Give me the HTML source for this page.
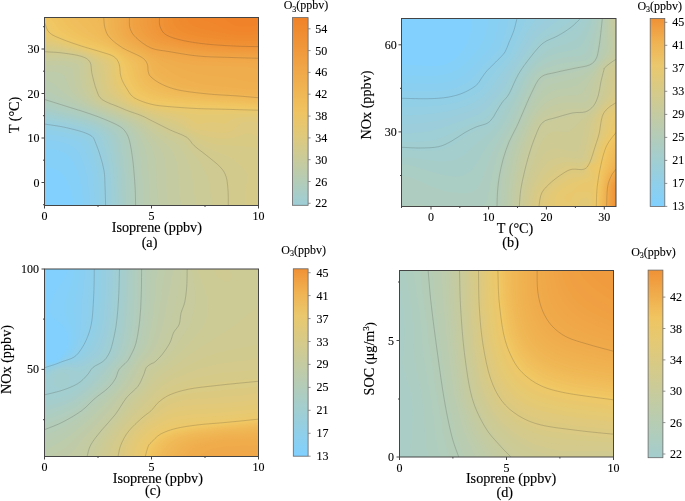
<!DOCTYPE html>
<html><head><meta charset="utf-8"><title>O3 contour plots</title>
<style>
html,body{margin:0;padding:0;background:#fff}
svg{display:block}
text{font-family:"Liberation Serif",serif;fill:#000}
.t{font-size:12px;stroke:#000;stroke-width:0.1px}
.l{font-size:14.2px;stroke:#000;stroke-width:0.15px}
</style></head><body>
<svg width="685" height="501" viewBox="0 0 685 501">
<rect width="685" height="501" fill="#fff"/>
<g><rect x="44.5" y="17.5" width="214" height="188" fill="#82d0fd"/>
<path d="M44.5,17.5 258.5,17.5 258.5,205.5 73.3,205.5 73.1,201.5 72.5,197.5 70.5,189.7 68.1,183.5 66.5,180.2 64.5,177 62.5,174.6 60.5,172.6 58.5,171.1 56.5,169.9 52.5,168.4 44.5,166.7 44.5,19.5Z" fill="#85d0f8"/>
<path d="M44.5,17.5 258.5,17.5 258.5,205.5 82.6,205.5 82.6,199.5 82,193.5 80.7,185.5 79.4,179.5 78.3,175.5 76.3,169.5 74.5,165.2 72.5,161.5 71.2,159.5 68.5,156.3 66.5,154.6 64.5,153.2 61,151.5 56.5,150.1 53.6,149.5 48.5,148.9 44.5,148.7 44.5,19.5Z" fill="#89cff3"/>
<path d="M44.5,17.5 258.5,17.5 258.5,205.5 89.1,205.5 89.2,199.5 88.7,191.5 87.9,183.5 86.6,175.5 84.6,167.5 82.5,161.5 80.5,156.7 78.5,153 76.5,150.3 73.6,147.5 70.4,145.5 66.5,143.8 62.5,142.5 56.5,141.2 50.5,140.5 44.5,140.1 44.5,19.5Z" fill="#8ccfee"/>
<path d="M44.5,17.5 258.5,17.5 258.5,205.5 94.6,205.5 94.6,197.5 94.1,187.5 93.2,177.5 92.2,171.5 90.1,163.5 87.3,155.5 84.7,149.5 82.5,145.9 80.2,143.5 77.3,141.5 72.8,139.5 68.5,138.1 62.5,136.5 57.3,135.5 50.5,134.6 44.5,134.2 44.5,19.5Z" fill="#90cfe9"/>
<path d="M44.5,17.5 258.5,17.5 258.5,205.5 99.4,205.5 99.5,199.5 99,187.5 98.3,177.5 97.6,171.5 96.7,167.5 95,161.5 92.5,153.7 89.3,145.5 88.3,143.5 86.9,141.5 84.9,139.5 82.5,138.1 80.5,137.1 75.9,135.5 68.5,133.4 60.5,131.6 50.5,130.1 44.5,129.4 44.5,19.5Z" fill="#93cfe4"/>
<path d="M44.5,17.5 258.5,17.5 258.5,205.5 103.9,205.5 103.4,187.5 102.4,171.5 101.5,167.5 98.2,155.5 93.9,143.5 92,139.5 90.5,137.5 87.5,135.5 82.8,133.5 80.5,132.8 62.5,128.3 44.5,125.5 44.5,19.5Z" fill="#97cee0"/>
<path d="M44.5,17.5 258.5,17.5 258.5,205.5 107.9,205.5 107.3,185.5 106.7,173.5 106.2,169.5 103.4,157.5 102.2,153.5 98.8,143.5 97.1,139.5 95.9,137.5 94.2,135.5 91.4,133.5 87.2,131.5 82.5,130 64.4,125.5 44.5,122.2 44.5,19.5Z" fill="#9acedb"/>
<path d="M44.5,17.5 258.5,17.5 258.5,205.5 111.7,205.5 111,183.5 110.5,174.9 109.9,169.5 107.5,157.5 105.5,149.5 104.3,145.5 102.8,141.5 100.5,137.4 99,135.5 96.9,133.5 94.5,131.7 90.5,129.7 86.5,128.2 80.5,126.5 64.5,122.8 44.5,119.2 44.5,19.5Z" fill="#9eced6"/>
<path d="M44.5,17.5 258.5,17.5 258.5,205.5 115.3,205.5 114.4,179.5 113.8,171.5 112.9,165.5 110.7,153.5 108.7,145.5 107.3,141.5 106.3,139.5 105.1,137.5 103.6,135.5 101.7,133.5 99.3,131.5 96.3,129.5 92.2,127.5 86.6,125.5 79.2,123.5 66.5,120.6 44.5,116.4 44.5,19.5Z" fill="#a1ced1"/>
<path d="M44.5,17.5 258.5,17.5 258.5,205.5 118.9,205.5 117.9,179.5 117.3,171.5 116.2,163.5 114.2,151.5 112.5,144 110.8,139.5 109.7,137.5 108.3,135.5 106.4,133.5 104.5,131.8 101.4,129.5 96.5,126.7 90.5,124.2 82.5,121.8 73,119.5 62.5,117.2 44.5,113.5 44.5,19.5Z" fill="#a5cdcc"/>
<path d="M44.5,17.5 258.5,17.5 258.5,205.5 122.5,205.5 121.4,179.5 120.6,169.5 119.6,161.5 117.7,149.5 116.5,143.5 115.1,139.5 114.2,137.5 112.5,135 111.2,133.5 109.1,131.5 106.4,129.5 103.3,127.5 98.5,124.9 92.5,122.5 84.5,120 76.5,117.9 44.5,110.7 44.5,19.5Z" fill="#a8cdc7"/>
<path d="M44.5,17.5 258.5,17.5 258.5,205.5 126.1,205.5 125,179.5 124,167.5 123,159.5 121.2,147.5 120,141.5 118.5,137.5 117.5,135.5 116,133.5 114.1,131.5 112.5,130.2 108.3,127.5 100.9,123.5 94.5,120.8 86.5,118.2 78.5,116 44.5,107.7 44.5,19.5Z" fill="#accdc2"/>
<path d="M44.5,17.5 258.5,17.5 258.5,205.5 129.9,205.5 129.2,185.5 128.3,173.5 127.3,163.5 125.1,147.5 124,141.5 122.8,137.5 121.8,135.5 120.6,133.5 119,131.5 116.8,129.5 113.8,127.5 102.5,121.8 96.5,119.3 80.5,114.1 44.5,104.6 44.5,19.5Z" fill="#afcdbe"/>
<path d="M44.5,17.5 258.5,17.5 258.5,205.5 134,205.5 133.3,185.5 131.8,167.5 131.1,161.5 128.8,145.5 127.6,139.5 126,135.5 124.9,133.5 123.4,131.5 121.6,129.5 119.2,127.5 116.5,125.9 102.7,119.5 98.5,117.8 82.5,112.3 44.5,101 44.5,19.5Z" fill="#b3ccb9"/>
<path d="M44.5,17.5 258.5,17.5 258.5,205.5 138.7,205.5 138.3,201.5 137.7,183.5 136.2,165.5 135.5,159.5 133.2,145.5 131.8,139.5 130.2,135.5 129.1,133.5 127.7,131.5 125.9,129.5 123.8,127.5 120.5,125.2 117.2,123.5 103.2,117.5 82.5,109.8 48.5,97.9 44.5,96.2 44.5,19.5Z" fill="#b6ccb4"/>
<path d="M44.5,17.5 258.5,17.5 258.5,205.5 144.4,205.5 143.6,199.5 142.9,183.5 141.8,167.5 141.2,161.5 140.3,155.5 138.7,147.5 137.1,141.5 135.6,137.5 134.5,135.5 131.9,131.5 130.2,129.5 126.5,126.3 122.5,123.6 120.5,122.6 103.4,115.5 90.5,110.6 73.6,103.5 64.8,99.5 52.5,93.5 44.5,88.9 44.5,19.5Z" fill="#baccaf"/>
<path d="M44.5,17.5 258.5,17.5 258.5,205.5 151.3,205.5 150.4,201.5 149.9,197.5 148.3,167.5 147.7,161.5 146.7,155.5 145.8,151.5 144.6,147.5 142.3,141.5 139.2,135.5 136.3,131.5 132.4,127.5 129.9,125.5 126.9,123.5 123.2,121.5 118.5,119.4 93.2,109.5 84.7,105.5 77.2,101.5 73.8,99.5 67.8,95.5 62.7,91.5 56.5,86 53.3,83.5 49.9,81.5 44.5,79.3 44.5,19.5Z" fill="#bdccaa"/>
<path d="M44.5,17.5 258.5,17.5 258.5,205.5 159.6,205.5 158.1,199.5 157.3,193.5 156.9,187.5 156.3,167.5 155.7,161.5 154.9,157.5 153.1,151.5 151.4,147.5 149.4,143.5 145.6,137.5 140.9,131.5 136.9,127.5 134.4,125.5 131.5,123.5 128,121.5 120.5,118.1 98.5,109.5 93.8,107.5 86.4,103.5 80.5,99.5 75.6,95.5 71.9,91.5 69.3,87.5 67.5,83.5 66,79.5 64.5,76.3 62.5,74.2 61.5,73.5 58.5,72.4 56.5,72 52.5,71.6 44.5,71.2 44.5,19.5Z" fill="#c1cba5"/>
<path d="M44.5,17.5 258.5,17.5 258.5,205.5 169.7,205.5 168,199.5 167.1,193.5 166.5,185.5 166.4,173.5 166.2,167.5 165.8,163.5 165,159.5 163.8,155.5 163,153.5 160.8,149.5 156.5,143.5 151.5,137.5 145.9,131.5 141.6,127.5 136.2,123.5 132.8,121.5 124.3,117.5 98.5,107.4 94.5,105.5 91.1,103.5 85.7,99.5 81.6,95.5 79.9,93.5 77.4,89.5 75.7,85.5 75.2,83.5 74.5,79.5 73.9,73.5 73.5,71.5 72.6,69.5 70.6,67.5 68.5,66.5 66.5,65.9 62.5,65.2 56.5,65.1 44.5,65.5 44.5,19.5Z" fill="#c4cba1"/>
<path d="M44.5,17.5 258.5,17.5 258.5,205.5 182,205.5 180.3,199.5 179.3,193.5 178.8,187.5 178.1,171.5 177.7,167.5 177,163.5 175.3,157.5 173.6,153.5 171.1,149.5 169.4,147.5 165.3,143.5 148.9,129.5 143.9,125.5 138.5,121.9 133.9,119.5 129.4,117.5 99.1,105.5 95.4,103.5 92.6,101.5 90.2,99.5 88.2,97.5 85.1,93.5 83.9,91.5 82,87.5 81.4,85.5 80.5,81.5 80,77.5 79.7,69.5 79.3,67.5 78.2,65.5 76.5,64 74.5,63 72.5,62.4 68.5,61.5 64.5,61 58.5,60.8 44.5,61.2 44.5,19.5Z" fill="#c8cb9c"/>
<path d="M44.5,17.5 258.5,17.5 258.5,205.5 196.4,205.5 195.4,201.5 194.2,195.5 192.7,181.5 191.8,175.5 190.9,171.5 189.8,167.5 187.6,161.5 184.9,155.5 181.5,149.5 180.1,147.5 178.4,145.5 176,143.5 173.1,141.5 164.5,136.3 145.9,123.5 140.5,120.2 134.7,117.5 102.5,104.8 99.7,103.5 96.5,101.5 94.2,99.5 92.4,97.5 90.9,95.5 89.6,93.5 87.6,89.5 86.2,85.5 84.8,79.5 84.4,75.5 84.3,67.5 83.8,65.5 82.7,63.5 80.5,61.5 78.5,60.6 74.8,59.5 64.5,57.9 58.5,57.6 44.5,57.7 44.5,19.5Z" fill="#cbcb97"/>
<path d="M44.5,17.5 258.5,17.5 258.5,205.5 212.2,205.5 211.2,199.5 210,189.5 209.1,183.5 207.6,177.5 206,173.5 202.9,167.5 199.2,161.5 196.2,157.5 190.5,150.4 185.6,143.5 183.8,141.5 180.9,139.5 166.5,132.6 147.7,121.5 140.5,117.6 124.5,111.5 104.5,103.3 100.6,101.5 98.5,99.9 96.2,97.5 94.8,95.5 92.8,91.5 91.3,87.5 89.1,79.5 88.3,75.5 88.2,73.5 88.3,67.5 88,65.5 87.1,63.5 85.4,61.5 82.8,59.5 80.5,58.4 78.5,57.8 64.5,55.5 58.5,55 44.5,54.6 44.5,19.5Z" fill="#cfca92"/>
<path d="M44.5,17.5 258.5,17.5 258.5,205.5 227.8,205.5 227.5,201.5 227.5,195.5 227.2,189.5 225.9,179.5 224.9,175.5 222.9,171.5 220.5,168.3 217.7,165.5 206.1,155.5 196.5,148 194.5,146.3 188.7,139.5 186.6,137.5 182.5,135.5 168.5,129.3 142.5,116.2 124.5,109.5 106.1,101.5 102.1,99.5 100,97.5 98.6,95.5 96.8,91.5 95.5,87.5 92.2,75.5 91.9,73.5 92,67.5 91.7,65.5 90.8,63.5 89.3,61.5 86.8,59.5 82.5,57 78.5,55.9 62.5,53.1 44.5,51.8 44.5,19.5Z" fill="#d2ca8d"/>
<path d="M44.5,17.5 258.5,17.5 258.5,205.5 246,205.5 245.2,203.5 244.9,201.5 245.7,187.5 247.3,179.5 247.5,177.5 247.3,175.5 246.8,173.5 245.8,171.5 244.2,169.5 237.9,163.5 233.3,159.5 230.3,157.5 226.4,155.5 212.5,150.3 204.5,146.5 198.5,143 191.8,137.5 188.5,135.1 184.5,132.9 178.5,129.9 168.9,125.5 142.5,114.1 130.5,109.9 124.6,107.5 108.1,99.5 104.7,97.5 102.5,95.1 101.6,93.5 100.1,89.5 96.6,75.5 95.8,67.5 95.2,65.5 94.2,63.5 92.6,61.5 90.3,59.5 87.1,57.5 82.5,55.3 78.5,54.3 62.5,51.3 48.5,49.7 44.5,49.1 44.5,19.5Z" fill="#d6ca88"/>
<path d="M44.5,17.5 258.5,17.5 258.5,148.3 252.5,147.2 246.5,146.5 230.5,145.2 222.5,145 218.5,144.7 214.5,143.9 208.5,142.3 204.5,140.8 200.5,138.9 196.5,136.7 180.5,127.1 174.5,124.1 167.9,121.5 154.5,116.8 142.5,112.2 129.3,107.5 124.8,105.5 120.9,103.5 113.8,99.5 110.5,97.5 107.9,95.5 106.1,93.5 104.9,91.5 103.4,87.5 102.4,83.5 101.2,77.5 100.3,69.5 99.8,67.5 99,65.5 97.8,63.5 96,61.5 93.6,59.5 90.5,57.5 86.6,55.5 82.5,53.9 80.5,53.3 64.5,49.9 50.5,47.7 44.5,46.5 44.5,19.5Z" fill="#d9ca83"/>
<path d="M44.5,17.5 258.5,17.5 258.5,136.9 252.5,134.2 250.5,133.6 248.5,133.3 246.5,133.4 244.5,133.8 236.5,136.6 232.5,137.6 228.5,138.3 222.5,138.7 218.5,138.5 212.5,137.6 204.5,135.7 198.5,133.7 192.5,131 189.9,129.5 182.5,124.3 180.5,123.1 176.5,121.2 170.5,119.1 152.5,113.8 132.5,106.8 129.2,105.5 125.2,103.5 118.6,99.5 115.7,97.5 112.5,94.9 110.5,92.9 109.4,91.5 108.5,89.9 106.8,85.5 105.8,81.5 105.2,77.5 104.4,69.5 104,67.5 103.1,65.5 101.8,63.5 99.8,61.5 97.2,59.5 93.9,57.5 90,55.5 85.3,53.5 82.5,52.6 64.5,48.3 50.2,45.5 44.5,44 44.5,19.5Z" fill="#ddc97f"/>
<path d="M44.5,17.5 258.5,17.5 258.5,123.9 256.5,122.8 252.5,121.5 248.5,121.3 246.5,121.5 244.5,121.9 242.5,122.5 240.4,123.5 238.5,124.8 233.4,129.5 230.5,131.2 228.5,132 226.5,132.5 222.5,132.8 218.5,132.4 210.5,131.2 200.5,130.1 196.5,129.3 194.5,128.6 192.4,127.5 185.2,121.5 182.5,119.8 180.5,118.9 174.5,116.9 156.5,112.8 148.5,110.5 132.5,104.9 129.4,103.5 125.9,101.5 122.9,99.5 117.8,95.5 115.7,93.5 114,91.5 112.5,89.2 110.8,85.5 109.6,81.5 108.9,77.5 108.3,69.5 108,67.5 107.3,65.5 106.1,63.5 104.1,61.5 101.2,59.5 97.7,57.5 93.6,55.5 88.9,53.5 84.5,51.9 68.5,47.7 51,43.5 44.5,41.3 44.5,19.5Z" fill="#e0c97a"/>
<path d="M44.5,17.5 258.5,17.5 258.5,117.9 256.5,117.2 254.5,116.8 250.5,116.5 244.5,116.7 237.3,117.5 234.5,118.3 231.1,119.5 227.9,121.5 226.5,122.8 224.5,123.7 222.5,123.5 216.5,122.2 212.5,121.9 208.5,122.2 200.5,123.7 198.5,123.8 196.5,123.5 194.5,122.4 191,119.5 188.5,117.9 186.5,117 182.5,115.5 176.5,114.1 156.5,110.6 150.5,109.2 134.5,103.7 129.7,101.5 126.8,99.5 122.1,95.5 118.4,91.5 115.7,87.5 113.9,83.5 112.7,79.5 112.1,75.5 111.6,67.5 111.2,65.5 110.4,63.5 108.8,61.5 106,59.5 102.1,57.5 97.6,55.5 88.5,52 82.5,50 58.6,43.5 51.9,41.5 46.5,39.5 44.5,38.4 44.5,19.5Z" fill="#e4c975"/>
<path d="M44.5,17.5 258.5,17.5 258.5,114.4 254.5,113.7 246.5,113.5 238.5,113.6 224.5,114.3 210.5,114.3 200.5,114.6 196.5,114.4 182.5,112 168.5,110.3 152.5,107.8 148.5,106.8 134,101.5 130.4,99.5 128,97.5 122.5,91.5 119.8,87.5 116.9,81.5 115.7,77.5 115.1,73.5 114.9,67.5 114.5,65.3 113.9,63.5 112.9,61.5 111,59.5 107.2,57.5 97,53.5 86.5,49.9 58.5,41.5 50.5,38.6 48.1,37.5 46.5,36.6 44.5,35.1 44.5,19.5Z" fill="#e7c970"/>
<path d="M44.5,17.5 258.5,17.5 258.5,111.9 254.5,111.4 198.5,110.6 170.5,108.3 154.5,106.2 150.5,105.5 134.5,99.6 131.5,97.5 129.6,95.5 124.8,89.5 122.5,85.5 119.6,79.5 118.8,77.5 118.2,73.5 117.8,67.5 117.5,65.5 116.9,63.5 115.9,61.5 114.6,59.5 112.5,57.6 108.5,55.9 98.5,52.3 64.3,41.5 59,39.5 49.9,35.5 47.1,33.5 45.5,31.5 44.5,29.7 44.5,19.5Z" fill="#ebc86b"/>
<path d="M44.5,17.5 258.5,17.5 258.5,110 254.5,109.7 200.5,108.1 170.5,106.2 154.5,104.2 150.7,103.5 136.5,98 134.5,96.9 133.1,95.5 128.5,89.5 126,85.5 122.1,77.5 121.2,73.5 120.3,65.5 119.6,63.5 118.6,61.5 117.2,59.5 115.4,57.5 112.5,55.5 110.5,54.7 98.5,50.7 81.3,45.5 64.5,39.5 60.1,37.5 52.3,33.5 49.9,31.5 48.6,29.5 46.5,24.5 46,23.5 44.5,21.9 44.5,19.5Z" fill="#eec866"/>
<path d="M44.6,17.5 258.5,17.5 258.5,108.4 200.5,106.1 170.5,104.2 152.5,101.8 148.5,100.5 141.2,97.5 137.2,95.5 135,93.5 131.9,89.5 129.3,85.5 126.4,79.5 124.8,75.5 123.4,67.5 122.9,65.5 122.1,63.5 121,61.5 119.6,59.5 116.5,56.4 114.5,54.9 110.5,53.1 100.5,49.6 86.7,45.5 80.6,43.5 65.6,37.5 62.5,35.9 55.6,31.5 53.5,29.5 52.2,27.5 50.1,23.5 48.8,21.5 46.5,19.1Z" fill="#f0c763"/>
<path d="M50,17.5 258.5,17.5 258.5,107 202.5,104.5 174.5,102.6 166.5,101.8 154.5,100 150.5,98.9 146.8,97.5 142.5,95.5 139.2,93.5 136.5,91 133.8,87.5 131.4,83.5 128.8,77.5 127.5,73.5 126.2,67.5 125.6,65.5 124.7,63.5 123.5,61.5 121.9,59.5 120,57.5 117.8,55.5 114.5,53.3 110.5,51.5 102.5,48.6 86.3,43.5 80.8,41.5 71.6,37.5 67.5,35.5 64.1,33.5 61.4,31.5 59,29.5 56.5,26.6 53.2,21.5 50.5,18Z" fill="#f0c561"/>
<path d="M55.3,17.5 258.5,17.5 258.5,105.7 204.5,103 176.5,101 168.5,100.1 158.5,98.6 153.5,97.5 148.5,95.7 144,93.5 141,91.5 138.8,89.5 136.5,86.6 134.6,83.5 132.6,79.5 131.2,75.5 129.1,67.5 127.3,63.5 126,61.5 124.3,59.5 120,55.5 116.5,53 112.5,50.8 102.5,46.8 87,41.5 81.9,39.5 73.7,35.5 70.2,33.5 66.5,31 62.7,27.5 60.5,24.9 56.5,19.2Z" fill="#f0c35f"/>
<path d="M60.9,17.5 258.5,17.5 258.5,104.4 206.5,101.6 178.5,99.5 170.5,98.5 160.5,96.9 154.7,95.5 150.5,94 146.5,92 142.8,89.5 140.5,87.2 138.5,84.7 136.6,81.5 134.8,77.5 132.1,67.5 131.3,65.5 130.2,63.5 128.7,61.5 126.9,59.5 124.7,57.5 118.5,52.8 112.5,49.3 102.5,44.9 88.6,39.5 84.1,37.5 76.7,33.5 72.5,30.6 68.8,27.5 65.2,23.5 62.3,19.5Z" fill="#f0c05d"/>
<path d="M67.4,17.5 258.5,17.5 258.5,103.1 206.5,100.2 180.5,98 172.5,96.9 162.5,95.1 156.5,93.6 152.5,92.2 148.5,90.2 146.5,88.9 144.5,87.3 142.6,85.5 141,83.5 139.7,81.5 137.8,77.5 136.6,73.5 135.2,67.5 134.4,65.5 133.3,63.5 131.8,61.5 129.7,59.5 124.7,55.5 118.5,51.3 114.5,48.8 110.5,46.7 91.3,37.5 87.5,35.5 81.1,31.5 78.4,29.5 73.9,25.5 70.5,21.6 68.5,19Z" fill="#f0be5c"/>
<path d="M75.5,17.5 258.5,17.5 258.5,101.9 206.5,98.7 180.5,96.3 174.5,95.4 162.5,92.9 157.7,91.5 152.9,89.5 149.3,87.5 146.6,85.5 144.5,83.4 142.5,80.8 140.8,77.5 140.1,75.5 138.3,67.5 137.7,65.5 136.7,63.5 135.1,61.5 133,59.5 127.4,55.5 114.5,47.2 100.7,39.5 97.5,37.5 91.8,33.5 84.6,27.5 80.6,23.5 76.5,18.7Z" fill="#f0bc5a"/>
<path d="M86.1,17.5 258.5,17.5 258.5,100.5 232.5,98.8 208.5,97.3 180.5,94.5 174.8,93.5 164.5,91 159.5,89.5 155,87.5 151.5,85.5 148.5,83.3 146.5,81.4 144.5,78.6 143,75.5 142.4,73.5 141,65.5 140.2,63.5 138.8,61.5 136.7,59.5 133.8,57.5 120.5,49.6 114.5,45.5 107.9,41.5 104.9,39.5 102.3,37.5 100,35.5 96.4,31.5 93.5,27.5 90.5,22.9 86.5,17.9Z" fill="#f0ba58"/>
<path d="M96.8,17.5 258.5,17.5 258.5,99.1 254.5,99 232.5,97.2 206.5,95.6 180.5,92.5 175.4,91.5 164.5,88.4 161.8,87.5 158.5,86 154.2,83.5 150.5,81 148.5,79.1 147.3,77.5 146.2,75.5 145.5,73.5 145,71.5 144.3,65.5 143.6,63.5 142.4,61.5 140.6,59.5 137.7,57.5 122.5,49.3 108.5,39.5 106.2,37.5 104.3,35.5 102.9,33.5 101.7,31.5 100.8,29.5 99.5,25.5 98.6,21.5 97.8,19.5Z" fill="#f0b856"/>
<path d="M103.4,17.5 258.5,17.5 258.5,97.6 255.5,97.5 238.5,96 206.5,93.8 182.5,90.6 176.9,89.5 164.8,85.5 162.5,84.5 160.5,83.5 152.5,78.2 150.5,76.3 148.9,73.5 148.3,71.5 147.7,65.5 147,63.5 145.7,61.5 144,59.5 142.5,58.2 141.7,57.5 138.5,55.7 125.9,49.5 122.5,47.6 111.9,39.5 109.6,37.5 107.9,35.5 106.7,33.5 105.8,31.5 104.8,27.5 103.9,19.5Z" fill="#f0b554"/>
<path d="M107.5,17.5 258.5,17.5 258.5,95.6 256.5,95.6 238.5,94 208.5,91.8 192.4,89.5 180.3,87.5 174.5,85.5 164.8,81.5 161.6,79.5 156.5,75.9 154.1,73.5 152.9,71.5 151.2,65.5 150.3,63.5 148.9,61.5 147.1,59.5 144.8,57.5 142.5,55.9 140.5,54.8 124.5,47 122.5,45.7 119.8,43.5 113,37.5 111.4,35.5 110.2,33.5 109.4,31.5 108.5,27.5 107.8,19.5Z" fill="#f0b352"/>
<path d="M110.8,17.5 258.5,17.5 258.5,92.9 256.5,93.1 252.5,92.9 232.5,91 212.8,89.5 204.5,88.4 187.9,85.5 182.5,84.2 178.5,82.9 171.1,79.5 167.5,77.5 164.5,75.5 160.5,72.3 158.5,70.2 154.1,63.5 152.4,61.5 150.3,59.5 147.9,57.5 145,55.5 141.6,53.5 129,47.5 125.3,45.5 122.6,43.5 118.2,39.5 114.7,35.5 113.5,33.5 112.7,31.5 111.8,27.5 111.1,19.5Z" fill="#f0b150"/>
<path d="M114,17.5 258.5,17.5 258.5,89.2 254.5,89.6 250.5,89.4 228.5,87 212.6,85.5 208.5,84.9 200.8,83.5 192.2,81.5 185.5,79.5 180.5,77.4 172.5,73.1 166.5,69.3 162.5,66.4 154.2,59.5 148.1,55.5 140.5,51.2 128.9,45.5 125.7,43.5 123.2,41.5 119.4,37.5 117.8,35.5 116.7,33.5 115.8,31.5 114.9,27.5 114.2,19.5Z" fill="#f0af4e"/>
<path d="M117.1,17.5 258.5,17.5 258.5,82.3 256.5,82.4 252.5,82.3 247.1,81.5 236.5,78.9 232.5,78.1 210.5,75.8 204.5,74.9 198.5,73.8 192.5,72.3 186.5,70.4 174.5,66.3 166.5,63.1 160.5,60.1 150.5,54.9 140.5,49.4 132.5,45.3 129.2,43.5 126.4,41.5 124.2,39.5 122.4,37.5 120.5,34.8 118.9,31.5 117.9,27.5 117.2,19.5Z" fill="#f0ad4d"/>
<path d="M120.1,17.5 258.5,17.5 258.5,69.7 256.5,68.8 252.5,67.5 246.5,66.8 236.5,66.3 202.5,65.6 194.5,64.9 182.5,62.7 172.5,60.6 166.5,58.9 160.5,56.9 152.5,53.9 148.5,52 133.1,43.5 129.9,41.5 127.4,39.5 125.5,37.5 124,35.5 122.8,33.5 121.9,31.5 120.8,27.5 120.2,19.5Z" fill="#f0aa4b"/>
<path d="M123.1,17.5 258.5,17.5 258.5,64.1 256.5,63.5 254.5,63.2 250.5,62.9 200.5,61.3 196.5,61 192.5,60.5 170.5,56.7 162.5,54.8 152.5,52 148.5,50.3 133.7,41.5 130.9,39.5 128.7,37.5 127.1,35.5 125.8,33.5 124.9,31.5 124.2,29.5 123.5,25.5 123.2,19.5Z" fill="#f0a849"/>
<path d="M126.2,17.5 258.5,17.5 258.5,60.8 256.5,60.5 252.5,60.2 198.5,58.4 194.5,57.9 170.5,54.1 152.5,50.2 150.5,49.5 148.5,48.4 134.6,39.5 132.2,37.5 130.4,35.5 128.5,32.6 127.2,29.5 126.5,25.5 126.3,19.5Z" fill="#f0a647"/>
<path d="M129.4,17.5 258.5,17.5 258.5,58.5 254.5,58.2 222.5,57.2 198.5,56.1 172.5,52.2 152.5,48.3 150.3,47.5 138.6,39.5 135.9,37.5 133.9,35.5 132.3,33.5 131.2,31.5 130.4,29.5 129.6,25.5 129.4,19.5Z" fill="#f0a445"/>
<path d="M132.6,17.5 258.5,17.5 258.5,56.7 228.5,55.7 198.5,54.2 172.5,50.2 154.5,46.8 152.5,46.2 150.5,45.3 148.5,43.9 139.9,37.5 137.6,35.5 135.9,33.5 134.5,31.1 133.8,29.5 133.2,27.5 132.6,23.5 132.6,19.5Z" fill="#f0a243"/>
<path d="M135.8,17.5 258.5,17.5 258.5,55.1 226.5,54.1 206.5,53.1 198.5,52.5 182.5,50.1 172.5,48.4 157.8,45.5 154.5,44.6 151.9,43.5 148.5,41.3 143.8,37.5 141.6,35.5 139.8,33.5 138.4,31.5 137.4,29.5 136.7,27.5 136,23.5 135.9,19.5Z" fill="#f0a041"/>
<path d="M139.3,17.5 258.5,17.5 258.5,53.7 228.5,52.8 208.5,51.7 200.5,51.1 180.5,48.2 166.6,45.5 158,43.5 154.5,42.2 152.5,41.2 150.5,39.8 147.6,37.5 143.7,33.5 142.3,31.5 141.2,29.5 140.4,27.5 139.6,23.5 139.3,19.5Z" fill="#f09d3f"/>
<path d="M142.9,17.5 258.5,17.5 258.5,52.3 232.5,51.5 210.5,50.4 202.5,49.7 182.5,46.9 168.5,44.1 162.5,42.7 158.5,41.5 154.4,39.5 151.6,37.5 149.4,35.5 147.6,33.5 146.2,31.5 145.1,29.5 144.2,27.5 143.3,23.5 143,19.5Z" fill="#f09b3e"/>
<path d="M146.7,17.5 258.5,17.5 258.5,50.9 232.5,50.2 204.5,48.5 196.7,47.5 182.5,45.4 164.5,41.3 159.5,39.5 156.5,37.9 153.4,35.5 151.6,33.5 150.1,31.5 149,29.5 148.1,27.5 147.2,23.5 146.8,19.5Z" fill="#f0993c"/>
<path d="M150.8,17.5 258.5,17.5 258.5,49.6 234.5,48.9 206.5,47.2 182.5,43.8 166.5,39.8 164.5,39.2 160.6,37.5 157.7,35.5 155.6,33.5 154.1,31.5 152.9,29.5 152.1,27.5 151.2,23.5 150.9,19.5Z" fill="#f0973a"/>
<path d="M155,17.5 258.5,17.5 258.5,48.1 234.5,47.5 208.5,45.9 204.5,45.4 184.5,42.5 180,41.5 166.2,37.5 162.2,35.5 159.8,33.5 158.1,31.5 157,29.5 156.2,27.5 155.4,23.5 155.1,19.5Z" fill="#f09538"/>
<path d="M159.4,17.5 258.5,17.5 258.5,46.5 234.5,46 208.5,44.2 202.7,43.5 182.5,40.3 167.7,35.5 164.3,33.5 162.4,31.5 161.1,29.5 160.3,27.5 159.5,23.5 159.4,19.5Z" fill="#f09236"/>
<path d="M163.5,17.5 258.5,17.5 258.5,44.8 256.5,44.8 234.5,44.3 208.5,42.4 189.7,39.5 182.5,38 170.6,33.5 167.4,31.5 165.7,29.5 164.7,27.5 164.1,25.5 163.8,23.5 163.6,19.5Z" fill="#f09034"/>
<path d="M167.8,17.5 258.5,17.5 258.5,42.7 254.5,42.9 236.5,42.6 210.5,40.5 204.5,39.7 191.5,37.5 184.5,36 182.5,35.3 178.1,33.5 174.2,31.5 171.5,29.5 169.9,27.5 168.9,25.5 168.4,23.5 167.9,19.5Z" fill="#f08e32"/>
<path d="M172.6,17.5 258.5,17.5 258.5,40.3 252.5,40.8 242.5,40.7 234.5,40.4 212.5,38.3 204.5,37.2 195.4,35.5 188.5,33.9 186.5,33.4 182,31.5 178.6,29.5 176.2,27.5 174.7,25.5 173.7,23.5 172.8,19.5Z" fill="#f08c30"/>
<path d="M178.2,17.5 258.5,17.5 258.5,37.6 254.5,38.1 248.5,38.3 238.5,38.2 228.5,37.3 208.5,34.6 202.2,33.5 193.5,31.5 187.7,29.5 184.2,27.5 182.5,26.1 180.3,23.5 179.3,21.5 178.5,18.8Z" fill="#f08a2f"/>
<path d="M185.8,17.5 258.5,17.5 258.5,34.2 252.5,35.1 246.5,35.4 238.5,35.3 228.5,34.1 214.8,31.5 205.5,29.5 200.5,28.2 196.5,27 192.5,25.3 189.8,23.5 188.5,22.2 186.5,19.3Z" fill="#f0872d"/>
<path d="M199.8,17.5 258.5,17.5 258.5,30.1 250.5,31.4 244.5,31.7 240.5,31.6 236.5,31.3 232.5,30.6 227.9,29.5 222.2,27.5 218.1,25.5 212.5,22.4 203.8,19.5 200.5,18Z" fill="#f0852b"/>
<path d="M223.5,17.5 258.5,17.5 258.5,24.6 252.5,25.9 246.5,26.5 240.5,26.4 236.5,25.7 234.5,25.1 230.7,23.5 228.5,22.1 226.5,20.6 224.5,18.6Z" fill="#f08329"/>
<clipPath id="clipa"><rect x="44.5" y="17.5" width="214" height="188"/></clipPath>
<path d="M42,123.7C42.5,123.7 41.5,123.6 44.9,124.1C48.4,124.7 56.7,125.7 62.8,126.9C68.9,128.2 76.7,130.1 81.5,131.6C86.4,133.2 89.5,134.5 91.9,136.3C94.2,138.2 94.2,139.6 95.6,142.9C97,146.2 98.9,151.3 100.3,156C101.7,160.7 103.3,166 104.1,171C104.9,176 104.8,180.4 105,186C105.3,191.7 105.5,201.3 105.6,205C105.7,208.7 105.6,207.5 105.7,208M42.1,98.7C42.6,98.8 41.5,98.5 44.9,99.6C48.4,100.6 57.3,103.5 62.8,105.2C68.2,106.9 74.7,108.9 77.8,109.9C80.9,110.8 77.8,109.7 81.5,111C85.3,112.3 94.1,115.1 100.3,117.6C106.6,120.1 114.7,123.4 119.1,126C123.5,128.7 124.7,130.4 126.6,133.5C128.5,136.6 129.3,139.8 130.4,144.8C131.4,149.8 132.4,156.7 133.2,163.5C133.9,170.4 134.6,179.1 135,186C135.5,193 135.5,201.3 135.6,205C135.7,208.7 135.7,207.5 135.7,208M41.9,51.5C42.4,51.5 41.5,51.5 44.9,51.7C48.4,52 56.7,52.2 62.8,53C68.9,53.8 77,54.9 81.5,56.4C86.1,57.9 88.3,59.2 90,62C91.7,64.8 90.8,68.6 91.9,73.3C93,78 94.8,85.8 96.6,90.2C98.3,94.6 98.4,96.7 102.2,99.6C105.9,102.4 114.7,105.2 119.1,107.1C123.5,109 124.7,109.6 128.5,111C132.2,112.4 137.9,114.1 141.6,115.7C145.4,117.3 146.3,118 151,120.4C155.7,122.7 163.8,126.9 169.8,129.8C175.7,132.6 182.6,134.6 186.7,137.3C190.7,139.9 190.7,142.6 194.2,145.7C197.6,148.8 202.9,152.4 207.3,156C211.7,159.6 217.3,163.8 220.5,167.3C223.6,170.7 224.8,172.9 226.1,176.7C227.3,180.4 227.6,185.1 228,189.8C228.3,194.5 228.3,202 228.3,205C228.4,208 228.4,207.5 228.4,208M43.6,20.9C43.8,21.3 43.9,21.6 44.9,23.6C45.9,25.6 46.7,30.3 49.6,32.9C52.6,35.6 57.5,37.3 62.8,39.5C68.1,41.7 75.3,44 81.5,46.1C87.8,48.1 95,50 100.3,51.7C105.6,53.4 110.3,54.4 113.5,56.4C116.6,58.4 117.8,60.5 119.1,63.9C120.3,67.3 119.7,73 121,77C122.2,81.1 124.4,84.9 126.6,88.3C128.8,91.7 130,95 134.1,97.7C138.2,100.3 145.1,102.7 151,104.2C156.9,105.7 162,106 169.8,106.7C177.6,107.4 188.5,108.1 197.9,108.6C207.3,109 216.1,109 226.1,109.3C236.1,109.6 252.2,110.1 258,110.2C263.8,110.4 260.5,110.3 261,110.3M103.3,15C103.4,15.5 103.4,15.7 103.7,17.9C104,20.2 104,25 105,28.3C106,31.5 106.7,34.4 109.7,37.6C112.7,40.9 117.5,44.7 122.8,48C128.2,51.2 137.5,54.7 141.6,57.3C145.7,60 146.2,61.6 147.2,63.9C148.3,66.3 147.6,69.2 148.2,71.4C148.8,73.6 148.7,74.9 151,77C153.3,79.2 157.6,82.4 162.3,84.5C167,86.7 171.6,88.6 179.2,90.2C186.7,91.7 197.9,93 207.3,93.9C216.7,94.9 227,95.2 235.5,95.8C243.9,96.4 253.7,97.3 258,97.7C262.3,98 260.5,97.9 261,97.9M129.2,14.9C129.3,15.4 129.3,15.7 129.4,17.9C129.5,20.2 128.9,25 130,28.3C131.1,31.5 132.5,34.4 136,37.6C139.5,40.9 145.4,45.6 151,48C156.6,50.3 162,50.4 169.8,51.7C177.6,53.1 188.5,55.1 197.9,56C207.3,57 216.1,57 226.1,57.3C236.1,57.7 252.2,58.1 258,58.3C263.8,58.4 260.5,58.4 261,58.4M159.2,14.9C159.3,15.4 159.3,16 159.4,17.9C159.6,19.8 158.9,23.6 160,26.4C161.1,29.2 162.2,32.5 166,34.8C169.8,37.2 176,38.9 182.9,40.5C189.8,42 198.6,43.3 207.3,44.2C216.1,45.1 227,45.7 235.5,46.1C243.9,46.5 253.7,46.5 258,46.6C262.3,46.8 260.5,46.7 261,46.7" fill="none" stroke="#2a2a2a" stroke-opacity="0.55" stroke-width="0.35" clip-path="url(#clipa)"/></g>
<rect x="44.5" y="17.5" width="214" height="188" fill="none" stroke="#444" stroke-width="1"/>
<g><rect x="401.5" y="18.5" width="214.5" height="188" fill="#82d0fd"/>
<path d="M472,18.5 616,18.5 616,206.5 401.5,206.5 401.5,64.6 427.6,66.1 435.6,66.1 439.6,65.7 443.6,64.9 447.6,63.6 451.6,61.5 455.6,58.5 459.6,54.5 462.7,50.5 466.3,44.5 468.2,40.5 470.1,34.5 471.1,28.5 471.8,20.5Z" fill="#85d0f8"/>
<path d="M487.5,20.5 487.8,18.5 616,18.5 616,206.5 401.5,206.5 401.5,75.1 425.6,75.9 431.6,75.9 437.6,75.5 443.6,74.6 447.6,73.6 450.9,72.5 453.6,71.3 457.6,69.1 461.6,66.2 467.7,60.5 474.8,52.5 479.3,46.5 481.7,42.5 484.3,36.5 485.9,30.5 487.2,22.5Z" fill="#88cff4"/>
<path d="M499.3,18.5 616,18.5 616,206.5 401.5,206.5 401.5,83.3 427.6,84 433.6,83.8 439.6,83.4 445.6,82.6 451.6,81.1 457.6,78.7 461.8,76.5 465.6,73.7 469.7,70.1 486.4,52.5 489.7,48.5 491,46.5 493.2,42.5 495.5,36.5 497.5,28.5 498.9,20.5Z" fill="#8bcff0"/>
<path d="M508.7,18.5 616,18.5 616,206.5 401.5,206.5 401.5,90.9 427.6,91.4 435.6,91.2 443.6,90.5 449.6,89.5 453.6,88.5 457.6,87.2 461.6,85.5 467.7,82.2 470,80.5 472.2,78.5 482.5,66.5 494.7,54.5 498.1,50.5 499.7,47.9 501.3,44.5 504.9,34.5 506.7,28.5 508.3,20.5Z" fill="#8ecfeb"/>
<path d="M517.2,18.5 616,18.5 616,206.5 401.5,206.5 401.5,98.5 429.6,98.8 447.6,97.3 459.6,94.2 463.6,92.8 474.8,86.5 477.7,83.9 484.3,74.5 487.5,70.5 499.7,58.2 503.1,54.5 504.6,52.5 505.8,50.5 506.8,48.5 513.3,32.5 514.6,28.5 516.6,20.5Z" fill="#91cfe7"/>
<path d="M525.2,20.5 526.4,18.5 616,18.5 616,206.5 401.5,206.5 401.5,106.9 429.6,106.1 441.6,104.9 449.6,103.7 457.6,101.7 465.6,99.1 471.7,96.1 477.7,92.4 481.7,89 484,86.5 492.6,74.5 495.8,70.5 505.7,59.2 509.3,54.5 512.5,48.5 519.9,32.5 524.2,22.5Z" fill="#94cfe3"/>
<path d="M534.5,20.5 536.1,18.5 616,18.5 616,206.5 401.5,206.5 401.5,115.7 421.5,114.5 429.6,113.8 437.6,112.8 447.6,110.9 457.6,108.4 463.6,106.5 467.7,105 473.7,102.2 479.7,98.4 482.1,96.5 485.7,93.3 490,88.5 493,84.5 501.3,72.5 511.8,58.8 515.7,52.5 523.8,37.2 527.8,30.1 530.1,26.5 533.8,21.3Z" fill="#98cede"/>
<path d="M545,20.5 547.2,18.5 616,18.5 616,206.5 401.5,206.5 401.5,124.6 417.5,123.5 425.6,122.6 433.6,121.3 441.6,119.6 455.6,115.6 469.7,110.9 475.7,108.3 478.7,106.5 481.6,104.5 485.7,101.1 489.7,97.1 493.9,92.5 497.1,88.5 499.8,84.5 507.2,72.5 517,58.5 527.8,40.4 530.3,36.5 533.8,31.8 535.8,29.5 539.8,25.3 543.8,21.5Z" fill="#9bceda"/>
<path d="M557.4,20.5 559.8,18.5 616,18.5 616,206.5 401.5,206.5 401.5,133.5 413.5,132.9 421.5,132.2 429.6,131 435.6,129.6 445.6,126.5 475.7,115.4 479.7,113.5 483.7,111 485.7,109.2 489.7,105.1 498.9,94.5 502,90.5 504.5,86.5 512.2,72.5 519.1,62.5 531.8,43.2 535.3,38.5 537.8,35.8 541.8,32.2 555.9,21.7Z" fill="#9eced6"/>
<path d="M570.5,20.5 572.7,18.5 616,18.5 616,206.5 401.5,206.5 401.5,142 415.5,142 421.5,141.7 431.6,140.4 437.6,139 441.6,137.7 447.6,135.1 460.6,128.5 469.6,124.5 473.7,122.9 481.7,120.4 483.7,119.5 485.7,118.3 487.7,116.7 489.7,114.5 498.3,102.5 505.7,93.5 507.7,90.2 514.4,76.5 516.7,72.5 527.8,56.5 538.6,42.5 540.6,40.5 543.8,38.1 555.9,31 565.5,24.5 569.9,21Z" fill="#a1ced1"/>
<path d="M581.5,20.5 582.3,18.5 616,18.5 616,206.5 401.5,206.5 401.5,149.7 421.5,150.7 435.6,150.4 439.6,150 441.6,149.5 447.6,147.2 453.6,144.4 457.6,141.8 465.6,136.1 468.1,134.5 475.4,130.5 485.7,126.6 489.1,124.5 491.7,122.1 493.7,119.7 495.7,116.7 500.3,108.5 502.7,104.5 509.8,95.1 511.2,92.5 517.6,78.5 519.7,74.5 527.8,63 531.8,57.8 541.8,47 543.8,45.2 545.8,43.8 547.8,42.8 553.5,40.5 559.9,37.5 568.5,32.5 571.9,30.2 573.9,28.5 580,22.5Z" fill="#a4cdcd"/>
<path d="M587.7,18.5 616,18.5 616,206.5 401.5,206.5 401.5,156.9 409.5,157.3 435.6,161 443.6,161.3 449.6,160.8 453.6,159.9 457.6,158.5 459.6,157.5 463.6,155 467.7,151.6 474.8,144.5 479.1,140.5 491.7,130.4 493.7,128.4 497,124.5 499.7,120.4 507,106.5 511.8,99 513.8,95.5 520.6,80.5 522.6,76.5 525.1,72.5 527.8,68.7 531.8,63.7 533.8,61.5 537.8,57.7 541.8,54.3 545.8,51.2 547.8,50 549.8,49 553.9,47.4 563.9,44.3 568.9,42.5 573,40.5 575.8,38.5 577.9,36.5 579.9,34.2 581.9,31.4 583.9,28.3 585.9,24.5 587.3,20.5Z" fill="#a7cdc9"/>
<path d="M591.8,20.5 592,18.5 616,18.5 616,206.5 401.5,206.5 401.5,164.3 405.5,164.5 411.5,165.6 417.5,167.2 437.6,173.4 443.6,174.9 449.6,176 455.6,176.4 459.6,176.1 463.6,175.2 465.6,174.3 468.6,172.5 471.7,169.8 474.4,166.5 477.7,161.5 482.9,152.5 486.7,146.5 491.1,140.5 497.7,132.1 501.7,126.4 505.1,120.5 510.9,108.5 516.2,98.5 525.4,78.5 527.8,74.4 531.8,69 535.8,64.9 539.8,61.5 545.8,57.5 549.8,55.5 553.9,53.9 557.9,52.7 573.9,49.5 576.8,48.5 579.9,46.6 581.9,44.4 583.2,42.5 585.9,37.2 589.9,27.4 591.4,22.5Z" fill="#aacdc4"/>
<path d="M595.6,18.5 616,18.5 616,206.5 401.5,206.5 401.5,175.9 403.5,175.8 405.5,176 409.5,176.9 413.8,178.5 429.6,185.7 435.6,188.1 442.8,190.5 449.6,192.1 457.6,193.1 461.6,193.3 465.6,193.2 469.7,192.6 471.7,192 473.7,191.1 475.7,189.7 477.7,187.5 478.4,186.5 479.7,184.3 481.7,180 488.7,160.5 491.1,154.5 493,150.5 498.2,140.5 505.7,128.5 507.9,124.5 519.8,99.1 526.3,84.5 529.3,78.5 531.7,74.5 533.8,71.9 535.8,69.8 539.8,66.6 543.8,64.1 549.8,61.2 553.9,59.8 559.9,58.3 565.9,57.3 577.9,55.9 581.9,55 583.9,54.1 585.9,52.3 587,50.5 587.9,48.4 589.9,42 593.9,27.8 595.4,20.5Z" fill="#aecdc0"/>
<path d="M598.6,18.5 616,18.5 616,206.5 479.8,206.5 481.7,205.7 483.7,204.5 485.6,202.5 486.6,200.5 487.7,197 490.8,180.5 492.5,172.5 496.3,158.5 498.5,152.5 501.8,144.5 503.7,140.5 509.8,129.6 513.3,122.5 527.8,89.4 532.3,80.5 534.6,76.5 536.1,74.5 537.8,72.8 539.8,71.2 543.8,69 551.9,66 557.9,64.3 563.9,63.1 571.9,61.9 584.8,60.5 585.9,60.2 587.9,59.4 589.2,58.5 591,56.5 591.9,54.4 597.2,28.5 598.6,20.5ZM412.4,204.5 415.5,204.3 419.5,204.5 434.6,206.5 405.2,206.5 407.5,205.5 411.5,204.6Z" fill="#b1cdbb"/>
<path d="M601.3,18.5 616,18.5 616,206.5 494.3,206.5 495,204.5 495.2,202.5 495.3,196.5 495.6,190.5 497.5,176.5 500.6,162.5 502.2,156.5 506.5,144.5 508.2,140.5 515.8,125.6 529.8,93.5 537.9,78.5 539.8,76.1 541.8,74.7 543.8,73.9 555.3,70.5 559.9,69.4 575.9,66.2 586.9,64.5 587.9,64.2 589.9,63.2 591.9,61.5 594.7,58.5 595.7,56.5 596,55.3 598,44.5 601.3,20.5Z" fill="#b4ccb7"/>
<path d="M603.6,18.5 616,18.5 616,206.5 499.8,206.5 500.4,202.5 500.6,190.5 502,178.5 502.6,174.5 505.1,162.5 506.7,156.5 510.6,144.5 512.2,140.5 518,128.5 525.8,111.1 533.8,94.4 535.8,91.1 541.8,82.1 543.8,80.1 545.8,79.1 547.5,78.5 557.9,75.8 569.9,73.1 585.9,68.5 587.9,67.8 589.9,66.8 591.9,65.3 593.9,63.3 596.5,60.5 597.9,58.5 598.8,56.5 599.4,54.5 600.9,48.5 601.8,42.5 603.6,20.5Z" fill="#b7ccb3"/>
<path d="M605.6,18.5 616,18.5 616,206.5 503.9,206.5 504.4,202.5 505,188.5 506.1,178.5 508.7,164.5 510.6,156.5 513.7,146.5 516,140.5 525.8,118.5 531.8,106.7 535.8,99.6 539.8,93.7 543.8,89.1 545.8,87.2 547.8,85.8 550.4,84.5 553.9,83.3 569.9,79.8 573.9,78.6 577.9,77 583.9,73.9 589.9,70.2 591.9,68.5 596,64.3 599.1,60.5 601.6,56.5 603.2,52.5 604.3,48.5 605,42.5 605.7,20.5Z" fill="#baccae"/>
<path d="M607.6,18.5 616,18.5 616,206.5 507.4,206.5 507.9,202.5 508.6,190.5 509.3,182.5 511.2,170.5 513.8,158.5 516.6,148.5 519.5,140.5 526.4,124.5 530.2,116.5 533.8,110.4 539.8,101.8 543.8,97.3 547.8,93.9 551.9,91.6 555.9,90.1 559.9,89.2 571.9,87.2 575.9,85.9 577.9,84.9 579.9,83.6 581.9,82 585.9,78.3 591.9,72.3 596,67.5 601.5,60.5 604.4,56.5 606.5,52.5 607.1,50.5 607.9,46.5 608.1,42.5 607.6,20.5Z" fill="#bdccaa"/>
<path d="M609.4,18.5 616,18.5 616,206.5 510.7,206.5 511.2,202.5 512.1,188.5 512.8,182.5 515.2,168.5 517.4,158.5 519.8,149.9 523,140.5 527.8,128.8 531.8,120.2 533.8,116.7 535.8,113.7 539.8,108.8 543.8,104.7 545.8,103 549.8,100.2 553.9,98.2 555.9,97.5 559.9,96.5 563.9,96 573.9,95.5 577.9,95 579.9,94.3 581.9,93.2 583.9,91.1 585.9,88 588.9,82.5 591.3,78.5 599.1,66.5 602,62.9 607.5,56.5 608.9,54.5 609.8,52.5 610.8,48.5 611,42.5 609.5,20.5Z" fill="#c1cba6"/>
<path d="M611.3,18.5 616,18.5 616,206.5 513.9,206.5 515.9,184.5 518.9,168.5 521,158.5 523.8,148.8 527.3,138.5 529.8,132.2 534.3,122.5 535.8,119.8 537.8,117 541.8,112.9 543.8,111.3 547.8,108.4 549.8,107.2 553.9,105.3 557.9,103.9 563.9,102.8 569.9,102.5 577.9,102.8 581.9,102.8 583.9,102.4 585.9,101.5 587.9,99.7 589.9,96 592.5,86.5 594.6,80.5 600.2,68.5 601.4,66.5 604,63.4 609.3,58.5 611.1,56.5 612.4,54.5 613.1,52.5 613.8,48.5 613.9,42.5 611.4,20.5Z" fill="#c4cba1"/>
<path d="M613.2,18.5 616,18.5 616,37.8 613.3,20.5ZM615.8,54.5 616,53.7 616,206.5 517,206.5 518.8,186.5 524.8,158.5 527.8,148.6 531.8,136.5 537.4,124.5 538.5,122.5 539.8,120.5 541.8,118.6 543.8,117.2 549.8,114.1 555.9,111.6 561.9,109.9 565.9,109.1 569.9,108.6 573.9,108.4 581.9,108.6 583.9,108.5 585.9,107.9 587.9,107 589.9,105.6 591.9,103.3 594.2,98.5 595.5,94.5 596.9,86.5 597.9,82.5 601,72.5 602.5,68.5 603.8,66.5 605.7,64.5 613.4,58.5 614.9,56.5Z" fill="#c7cb9d"/>
<path d="M615.1,18.5 616,18.5 616,24.6 615.3,20.5ZM615.5,60.5 616,60 616,206.5 519.9,206.5 522.1,186.5 528.4,160.5 529.8,155.9 535.8,138.3 537.6,134.5 541.8,126.5 543.8,123.7 545.8,122.5 563.9,117.5 573.9,114.6 581.9,113.6 583.9,113.2 585.9,112.5 587.9,111.3 591.9,108.2 593.6,106.5 595,104.5 597,100.5 598.7,96.5 599.9,92.5 601.2,84.5 603.9,72.5 605.2,68.5 606.9,66.5 608,65.6 610,64.1 614,61.6Z" fill="#cacb99"/>
<path d="M614.5,64.5 616,63.5 616,206.5 522.9,206.5 524.7,190.5 525.4,186.5 526.5,182.5 533.8,159.4 539.8,145.5 541.8,141.4 543.6,138.5 545.8,135.7 547.8,133.8 549.8,132.5 551.9,131.8 553.9,131.4 555.9,131.3 565.9,132 567.9,131.7 569.9,131 571.9,129.6 578.8,122.5 581.1,120.5 587.9,115.4 593.9,109.6 596,107.2 597.7,104.5 601.2,98.5 602.9,94.5 604,90.5 606.8,74.5 607.9,70.5 609.2,68.5 610,67.8 611.5,66.5 614,64.8Z" fill="#cdca94"/>
<path d="M614.4,68.5 616,67.2 616,206.5 525.8,206.5 527.5,192.5 528.3,188.5 529.8,183.7 533.8,173.6 537.8,164.4 539.9,160.5 541.8,157.4 543.8,154.8 545.8,152.6 547.8,150.9 549.8,149.7 551.9,149 553.9,148.6 555.9,148.5 559.9,149 569.9,151.3 573.9,151.8 575.9,151.6 577.9,150.6 579.3,148.5 580.2,146.5 581.3,142.5 583.2,132.5 584.8,126.5 586.8,122.5 588.1,120.5 591,116.5 598,107.8 603,100.5 605.5,96.5 606.4,94.5 607.7,90.5 610,77.3 610.6,74.5 611.4,72.5 612,71.4 612.6,70.5 614,69Z" fill="#d0ca90"/>
<path d="M615,74.5 616,72.6 616,206.5 528.7,206.5 529.6,198.5 530.7,192.5 531.8,188.5 533.3,184.5 537.8,175.7 541.8,169.1 545.4,164.5 547.8,162 549.8,160.5 551.9,159.3 553.9,158.5 557.9,157.4 559.9,157.2 563.9,157.2 567.9,157.5 575,158.5 577.9,158.6 579.9,158.3 581.9,157.4 583,156.5 584,154.5 587.3,140.5 589.4,128.5 591.2,122.5 593,118.5 595.5,114.5 602,105.5 607.7,98.5 609,96.5 610,94.5 611.3,90.5 613.2,80.5 614.2,76.5Z" fill="#d3ca8c"/>
<path d="M615.7,86.5 616,85.1 616,206.5 531.7,206.5 532.5,200.5 533.5,194.5 534.6,190.5 535.8,187.6 537.8,184.1 539.8,181 543.8,175.5 545.8,173.1 549.8,169 553.1,166.5 555.9,164.8 557.9,163.9 559.9,163.2 563.9,162.3 567.9,161.9 571.9,162.2 577.9,162.8 579.9,162.5 581.9,161.8 584.5,160.5 585.9,159.4 586.7,158.5 587.4,156.5 588.4,150.5 590,144.5 591.9,136.5 594.1,124.5 595.2,120.5 596,118.5 598,114.5 602.1,108.5 604,106.1 609.6,100.5 611.3,98.5 612.5,96.5 613.5,94.5 614.2,92.5 615.3,88.5Z" fill="#d7ca87"/>
<path d="M614.9,98.5 616,96.5 616,206.5 534.9,206.5 535.4,202.5 536.9,194.5 537.5,192.5 538.3,190.5 539.8,188 545.8,180.6 547.8,178.4 551.9,174.7 557.9,170.1 560.5,168.5 563.9,166.9 565.9,166.2 569.9,165.5 573.9,165.7 577.9,166.5 579.9,166.4 581.9,165.3 582.5,164.5 583.9,163.5 588.5,160.5 589.6,158.5 590.5,152.5 591,150.5 592.9,144.5 595.1,136.5 596,132.5 597.6,122.5 598.6,118.5 599.3,116.5 601.6,112.5 604,109.2 606,106.8 608,105 611.3,102.5 614,99.8Z" fill="#daca83"/>
<path d="M615.4,102.5 616,101.9 616,206.5 538.4,206.5 540.2,196.5 540.6,194.5 541.3,192.5 542.6,190.5 543.8,189.1 551.9,180.7 553.9,179.1 563.1,172.5 565.9,170.8 567.9,169.8 569.9,169.1 571.9,168.8 573.9,169 577.9,170.3 579.7,170.5 581.9,170.1 583.3,168.5 584,166.5 585.2,164.5 588.4,162.5 589.9,161.4 590.7,160.5 591.6,158.5 592.6,152.5 596,142.5 598.9,132.5 599.7,128.5 600.8,120.5 601.8,116.5 604.2,112.5 607.2,108.5 610,106.3 614,103.6Z" fill="#ddc97e"/>
<path d="M614.1,106.5 616,105.2 616,206.5 542.6,206.5 542.8,204.5 544,198.5 545.1,194.5 546.3,192.5 548,190.5 553.9,184.4 557.9,181.3 563.9,177.2 567.9,174.8 569.9,173.9 571.9,173.4 573.9,173.4 577.9,173.8 579.9,173.8 581.9,173.4 583.5,172.5 583.9,172.2 585,170.5 585.7,166.5 586.9,164.5 587.9,163.8 590.6,162.5 592.4,160.5 593.4,158.5 594.2,154.5 595.3,150.5 601.7,132.5 602.6,128.5 604,119 604.8,116.5 606,114.2 608.8,110.5 611.1,108.5 614,106.6Z" fill="#e0c97a"/>
<path d="M615.5,108.5 616,108.2 616,206.5 547.9,206.5 547.9,204.5 548.4,200.5 549.4,196.5 550.4,194.5 551.7,192.5 553.3,190.5 555.9,187.9 557.9,186.2 561.9,183.4 565.9,180.9 569.9,178.9 573.9,177.7 579.9,176.9 581.9,176.5 583.9,175.7 585.9,174 586.7,172.5 587,170.5 587.1,166.5 588.5,164.5 592.2,162.5 594.1,160.5 595.1,158.5 596.6,152.5 599.3,144.5 603.5,134.5 605,130.5 605.9,126.5 606.9,120.5 607.4,118.5 608.1,116.5 609.3,114.5 610.8,112.5 614,109.7Z" fill="#e3c976"/>
<path d="M615,112.5 616,111.5 616,206.5 586.6,206.5 587.9,205.3 588.5,204.5 589,202.5 588.8,200.5 587.9,198.5 585.9,197.6 583.9,197.9 582.6,198.5 580.2,200.5 579,202.5 578.4,204.5 578.7,206.5 554.8,206.5 554.4,202.5 554.4,200.5 554.7,198.5 555.9,195.3 557.5,192.5 559.9,190.2 565.3,186.5 571.9,182.9 575.9,181.4 585.7,178.5 587.9,177.1 588.5,176.5 589.3,174.5 589.3,172.5 588.5,168.5 588.5,166.5 589.9,164.5 591.9,163.8 593.9,162.6 595.8,160.5 596.8,158.5 599.1,150.5 601.1,144.5 602.9,140.5 606,134.5 607.8,130.5 608.9,126.5 610.2,120.5 610.9,118.5 611.9,116.5 614,113.6Z" fill="#e6c971"/>
<path d="M615.6,116.5 616,115.9 616,206.5 591.2,206.5 592.2,204.5 592.4,202.5 592.4,200.5 591.9,196.1 591.4,194.5 589.9,192.2 587.9,191.5 577.9,192 575.8,192.5 573.9,193.8 572.6,196.5 571.9,198.5 570.6,200.5 569.9,201.2 567.9,201.9 565.9,201.4 564.9,200.5 564.3,198.5 564.9,196.5 565.9,195.2 567.9,193.7 569.9,192.7 571.9,192 573.9,190.6 577.4,186.5 579.9,184.5 583.9,182.7 589.9,181.5 591.2,180.5 591.9,179.6 592.5,178.5 592.9,176.5 592.8,174.5 592.2,172.5 590.3,168.5 589.9,166.5 591.9,165.2 593.9,164.2 596,162.9 597.7,160.5 598.5,158.5 601.4,148.5 602.8,144.5 604,142.1 608.5,134.5 610.5,130.5 612.9,122.5 614.4,118.5Z" fill="#e9c86d"/>
<path d="M615.9,122.5 616,206.5 593.6,206.5 594.2,204.5 594.4,202.5 594.3,194.5 593.8,188.5 593.8,186.5 594.6,182.5 595.7,178.5 596,174.5 595.7,172.5 593.9,168.5 593.9,168.2 594.5,166.5 596,165.7 598,163.4 598.5,162.5 600,159.2 603.1,148.5 604.5,144.5 606,141.9 612.2,132.5 613.9,128.5 615.2,124.5Z" fill="#edc869"/>
<path d="M615.7,130.5 616,129.6 616,206.5 595.2,206.5 595.7,204.5 595.9,202.5 596,190.5 596.4,184.5 598,176.7 598.4,172.5 598.3,168.5 598.7,166.5 600,164 601.3,160.5 604.7,148.5 606,145.2 608,141.9 612,136.5 614.7,132.5Z" fill="#f0c864"/>
<path d="M615.7,134.5 616,134 616,206.5 596.5,206.5 596.9,204.5 597.4,190.5 597.9,184.5 600.2,172.5 600.6,168.5 601,166.5 607.2,146.5 608.2,144.5 609.7,142.5 614.3,136.5Z" fill="#f0c662"/>
<path d="M614.9,138.5 616,137 616,206.5 597.5,206.5 598,204.3 598.5,190.5 599,184.5 602.3,168.5 608.2,148.5 609.1,146.5 610.3,144.5 614,139.6Z" fill="#f0c461"/>
<path d="M615.4,140.5 616,139.7 616,206.5 598.5,206.5 599,202.5 599.5,190.5 599.8,186.5 600.4,182.5 601.7,176.5 603.8,168.5 609.3,150.5 611,146.5 614,142.3Z" fill="#f0c25f"/>
<path d="M615.8,142.5 616,142.3 616,206.5 599.4,206.5 599.8,202.5 600.7,186.5 601.3,182.5 602.7,176.5 605,168.5 610.2,152.5 611.9,148.5 614.3,144.5Z" fill="#f0c05d"/>
<path d="M614.9,146.5 616,144.9 616,206.5 600.2,206.5 600.6,202.5 601.3,188.5 601.8,184.5 602.6,180.5 604.9,172.5 611.1,154.5 612.7,150.5 614,148Z" fill="#f0be5c"/>
<path d="M615.5,148.5 616,147.7 616,206.5 601,206.5 601.4,202.5 602.3,186.5 603.4,180.5 604.5,176.5 606,172.2 609.1,164.5 612.7,154.5 614.4,150.5Z" fill="#f0bc5a"/>
<path d="M615.1,152.5 616,150.7 616,206.5 601.7,206.5 602.1,202.5 602.8,188.5 603.7,182.5 604.7,178.5 606,174.5 610.3,164.5 614.2,154.5Z" fill="#f0ba58"/>
<path d="M615.8,154.5 616,154 616,206.5 602.4,206.5 602.8,202.5 603.5,188.5 604.4,182.5 605.5,178.5 606.9,174.5 611.6,164.5 614.9,156.5Z" fill="#f0b857"/>
<path d="M615.4,158.5 616,157.2 616,206.5 603.2,206.5 603.5,202.5 604.2,188.5 605.1,182.5 606.3,178.5 607.8,174.5 611.9,166.5 614.6,160.5Z" fill="#f0b655"/>
<path d="M615.9,160.5 616,160.2 616,206.5 603.9,206.5 604.2,202.5 604.8,188.5 605,186.5 605.9,182.5 607,178.5 608.6,174.5 613,166.5 615,162.5Z" fill="#f0b453"/>
<path d="M615.2,164.5 616,162.9 616,206.5 604.5,206.5 605.5,188.5 605.7,186.5 606.5,182.5 607.8,178.5 609.4,174.5 614.2,166.5Z" fill="#f0b352"/>
<path d="M615.3,166.5 616,165.2 616,206.5 605.2,206.5 606.1,188.5 606.7,184.5 607.8,180.5 609.3,176.5 611.5,172.5 614.2,168.5Z" fill="#f0b150"/>
<path d="M615.3,168.5 616,167.2 616,206.5 605.9,206.5 606.7,188.5 607.4,184.5 608.5,180.5 610.1,176.5 612,173.2 614,170.3Z" fill="#f0af4e"/>
<path d="M614.9,170.5 616,169 616,206.5 606.5,206.5 607.4,188.5 608,184.7 609.2,180.5 610.9,176.5 612,174.5 614,171.7Z" fill="#f0ad4d"/>
<path d="M616,170.5 616,206.5 607.1,206.5 607.9,190.5 608.2,186.5 609.3,182.5 610.8,178.5 612,176 614.4,172.5Z" fill="#f0ab4b"/>
<path d="M615.4,172.5 616,171.7 616,206.5 607.8,206.5 608.5,190.5 608.9,186.5 609.3,184.5 610.7,180.5 612,177.6 614,174.4Z" fill="#f0a949"/>
<path d="M614.8,174.5 616,173 616,206.5 608.4,206.5 609.1,190.5 609.5,186.5 610,184.5 611.4,180.5 612.3,178.5 614,175.7Z" fill="#f0a747"/>
<path d="M615.8,174.5 616,174.2 616,206.5 609,206.5 609.7,190.5 610.1,186.5 610.6,184.5 612,180.8 614.3,176.5Z" fill="#f0a546"/>
<path d="M615.2,176.5 616,175.5 616,206.5 609.6,206.5 610.5,188.5 611.3,184.5 612,182.5 614,178.4Z" fill="#f0a344"/>
<path d="M614.8,178.5 616,176.7 616,206.5 610.2,206.5 611.1,188.5 612,184.5 614,179.9Z" fill="#f0a142"/>
<path d="M615.7,178.5 616,178 616,206.5 610.9,206.5 611.7,188.5 612.7,184.5 614.5,180.5Z" fill="#f09f41"/>
<path d="M615.3,180.5 616,179.3 616,206.5 611.5,206.5 612.3,188.5 612.7,186.5 614.2,182.5Z" fill="#f09d3f"/>
<path d="M615,182.5 616,180.7 616,206.5 612.1,206.5 612.8,190.5 613.4,186.5 614.1,184.5Z" fill="#f09b3d"/>
<path d="M615.8,182.5 616,182.1 616,206.5 612.7,206.5 613.4,190.5 614,186.8 614.8,184.5Z" fill="#f0993c"/>
<path d="M615.6,184.5 616,183.6 616,206.5 613.4,206.5 614.1,190.5 614.3,188.5 614.8,186.5Z" fill="#f0973a"/>
<path d="M615.5,186.5 616,185.3 616,206.5 614,206.5 614.7,192.5 615,188.5Z" fill="#f09538"/>
<path d="M615.7,188.5 616,187.4 616,206.5 614.7,206.5 615.5,190.5Z" fill="#f09337"/>
<path d="M615.9,194.5 616,206.5 615.3,206.5 615.9,196.5Z" fill="#f09135"/>
<clipPath id="clipb"><rect x="401.5" y="18.5" width="214.5" height="188"/></clipPath>
<path d="M398.9,98.3C399.4,98.3 396.9,98.2 401.9,98.3C407,98.4 421.5,98.9 429.1,98.7C436.8,98.5 442.2,98.1 447.9,97.2C453.5,96.2 458.2,95 462.9,93C467.6,91.1 472.9,88 476,85.5C479.1,83 479.8,80.5 481.6,78C483.5,75.5 484.4,73.7 487.2,70.5C490.1,67.4 495.5,62.4 498.5,59.3C501.5,56.2 503.3,54.6 505.1,51.8C506.8,49 507.6,45.8 509,42.4C510.4,39 512.4,35 513.7,31.1C515,27.2 516.2,21.5 516.9,18.9C517.5,16.4 517.5,16.5 517.6,16M398.9,147.1C399.4,147.2 398.5,147.1 401.9,147.3C405.4,147.4 413.7,148.1 419.8,148C425.8,147.9 433.2,147.9 438.5,146.7C443.8,145.6 447.2,143.4 451.6,141.1C456,138.7 460.7,135 464.8,132.6C468.8,130.3 472.2,128.6 476,127C479.8,125.4 484.4,124.8 487.2,123.3C490.1,121.7 491.4,119.5 492.9,117.6C494.4,115.8 494.7,114.5 496.2,112C497.8,109.5 500.1,105.4 502.2,102.4C504.4,99.4 506.3,98.7 509,94C511.7,89.3 514.9,80.2 518.4,74.3C521.8,68.3 525.6,63.5 529.6,58.3C533.7,53.2 538.1,47.1 542.8,43.3C547.5,39.6 553.1,38.5 557.8,35.8C562.5,33.2 567.3,30.2 570.9,27.4C574.6,24.6 578.1,20.7 580,18.9C581.8,17.2 581.8,17.2 582.1,16.9M496.9,209C496.9,208.5 496.9,209 497,206C497.1,203 497.2,195.8 497.6,190.8C498,185.8 498.5,181.1 499.4,175.8C500.4,170.5 501.6,164.5 503.2,158.9C504.8,153.3 506.8,147.3 509,142C511.2,136.7 514.2,132 516.5,127C518.9,122 520.6,117.7 523.1,112C525.6,106.3 528.6,98.9 531.5,93C534.5,87.2 536.8,80.5 540.9,77.1C545,73.7 550.3,73.9 555.9,72.4C561.6,70.9 569.1,69.5 574.7,68.3C580.3,67 586.1,66.6 589.7,64.9C593.3,63.2 594.7,61.5 596.3,58.3C597.9,55.2 598.3,50.7 599.1,46.1C599.9,41.6 600.5,35.7 601,31.1C601.5,26.6 602,21.5 602.3,18.9C602.6,16.4 602.6,16.5 602.6,16M519,209C519.1,208.5 519,209.7 519.3,206C519.7,202.3 519.8,194.9 521.2,187C522.6,179.2 525.4,167.3 527.8,158.9C530.1,150.5 532.8,142.5 535.3,136.4C537.8,130.3 539.3,125.4 542.8,122.3C546.2,119.2 550.9,119.2 555.9,117.6C560.9,116.1 567.9,113.9 572.8,112.9C577.8,112 582.1,113 585.5,111.8C588.9,110.6 591.4,108.6 593.5,105.9C595.6,103.2 597.1,99.3 598.3,95.5C599.5,91.7 599.8,87 600.7,82.8C601.6,78.5 603.2,72.5 603.9,70C604.6,67.5 603.7,68.9 604.7,67.7C605.8,66.6 608.5,64.4 610.4,63C612.2,61.6 614.6,60.2 616,59.3C617.4,58.4 618.1,57.9 618.5,57.6M538.4,208.9C538.5,208.4 538.5,208.7 539,206C539.6,203.3 539.7,196.8 541.9,192.7C544,188.6 548.3,184.9 552.2,181.4C556.1,178 561.9,174.1 565.3,172C568.8,170 569.7,169.7 572.8,169.2C576,168.8 581.3,170.3 584.1,169.2C586.9,168.1 587.8,166.6 589.7,162.7C591.6,158.7 593.8,150.6 595.4,145.8C596.9,141 597.9,138.7 599.1,133.8C600.3,128.9 600.8,120.5 602.3,116.3C603.8,112 605.5,110.6 607.8,108.3C610.1,106 614.2,103.9 616,102.7C617.8,101.5 618.1,101.3 618.5,101M596.1,209C596.2,208.5 596.1,209.7 596.3,206C596.5,202.3 596.4,194 597.2,187C598,180.1 599.4,171.4 601,164.5C602.5,157.7 604.1,151.1 606.6,145.8C609.1,140.5 614.1,135.2 616,132.6C617.9,130 617.5,130.6 617.7,130.2M606.5,209C606.5,208.5 606.4,209.7 606.6,206C606.8,202.3 606.8,192.1 607.6,187C608.3,182 609.9,178.8 611.3,175.8C612.7,172.8 614.9,170.7 616,169.2C617.1,167.7 617.5,167.2 617.7,166.8" fill="none" stroke="#2a2a2a" stroke-opacity="0.55" stroke-width="0.35" clip-path="url(#clipb)"/></g>
<rect x="401.5" y="18.5" width="214.5" height="188" fill="none" stroke="#444" stroke-width="1"/>
<g><rect x="44.5" y="269" width="214" height="187.5" fill="#81d0fd"/>
<path d="M67.7,269 258.5,269 258.5,456.5 44.5,456.5 44.5,361.8 50.5,361.9 54.5,361.8 56.5,361.2 57.1,360.8 62.5,354.8 65.4,350.8 66.5,348.8 67.2,346.8 67.7,344.8 68.1,340.8 67.7,336.8 67.3,334.8 66.5,332.5 64.7,328.8 62.5,325.8 60.5,323.7 58.5,322 54.5,318.9 52.3,316.9 50.8,314.9 49.9,312.9 49.5,310.9 49.4,308.9 49.5,306.9 50.4,302.9 52.7,296.9 56,290.9 64.5,277.5 66.5,273.5 67.3,271Z" fill="#84d0fa"/>
<path d="M74.4,269 258.5,269 258.5,456.5 44.5,456.5 44.5,363 54.5,362.8 56.5,362 58.3,360.8 66.4,352.8 67.9,350.8 69.1,348.8 70,346.8 70.6,344.8 71.3,340.8 71.5,336.8 71.2,332.8 70.5,329.1 69.9,326.8 65.6,314.9 64.7,310.9 64.5,306.9 65,302.9 65.8,298.9 67.7,292.9 72.5,279.3 73.6,275 74.3,271Z" fill="#86d0f6"/>
<path d="M79.9,269 258.5,269 258.5,456.5 44.5,456.5 44.5,364.2 52.5,363.6 54.5,363.3 56.6,362.8 59.5,360.8 62.5,358.1 66.8,354.8 69,352.8 70.6,350.8 71.9,348.8 72.8,346.8 73.5,344.8 74.5,340.8 75.2,336.8 75.5,332.8 75.4,326.8 74.1,312.9 74,308.9 74.3,304.9 75.3,296.9 78.9,279 79.8,271Z" fill="#89cff3"/>
<path d="M84.8,269 258.5,269 258.5,456.5 44.5,456.5 44.5,365.3 50.5,364.5 54.5,363.8 56.5,363.3 58,362.8 62.5,359.3 69.7,354.8 72,352.8 73.6,350.8 75.7,346.8 77.2,342.8 78.4,338.8 79.4,334.8 80,330.8 80.7,322.9 81.4,304.9 84.2,279 84.8,271Z" fill="#8ccfef"/>
<path d="M89.4,269 258.5,269 258.5,456.5 44.5,456.5 44.5,366.4 50.5,365.3 56.5,363.9 58.5,363.2 64.5,359.3 69.9,356.8 73.1,354.8 75.2,352.8 76.7,350.8 78.9,346.8 81.3,340.8 83.5,334.8 84.5,330.8 86.3,320.9 88.2,294.9 89.4,271Z" fill="#8ecfeb"/>
<path d="M93.9,269 258.5,269 258.5,456.5 44.5,456.5 44.5,367.7 50.5,366.2 54.5,364.9 58.5,363.9 60.8,362.8 62.5,361.6 64.5,360.6 69.5,358.8 74.2,356.8 76.8,354.8 78.6,352.8 80,350.8 82.3,346.8 86.2,338.8 87.9,334.8 91.3,320.9 91.8,316.9 93.2,296.9 93.9,271Z" fill="#91cfe8"/>
<path d="M97.9,269 258.5,269 258.5,456.5 44.5,456.5 44.5,368.9 54.5,365.6 58.5,364.6 60.5,363.8 64.5,361.8 72.5,359.4 74.5,358.7 76.5,357.7 77.9,356.8 80.2,354.8 82,352.8 84.7,348.8 89.2,340.8 91.2,336.8 92.5,332.8 95,322.9 95.7,318.9 97.4,296.9 97.8,271Z" fill="#93cfe4"/>
<path d="M101.7,269 258.5,269 258.5,456.5 44.5,456.5 44.5,370.3 53.4,366.7 58.5,365.4 64.5,363 74.5,360.6 78.5,359 81.8,356.8 83.9,354.8 85.8,352.8 88.8,348.8 91.3,344.8 94.3,338.8 95.8,334.8 98.4,324.9 99.5,318.9 100.5,308.2 101.3,296.9 101.7,271Z" fill="#96cee1"/>
<path d="M105.5,269 258.5,269 258.5,456.5 44.5,456.5 44.5,372 51.2,368.7 55.8,366.7 60.5,365.7 64.5,364.3 66.5,363.8 73.6,362.8 76.5,362.1 80.5,360.6 83.5,358.8 88.3,354.8 92,350.8 94.7,346.8 96.8,342.8 99.1,336.8 101.2,328.8 102.9,320.9 103.8,312.9 105,296.9 105.4,271Z" fill="#98cedd"/>
<path d="M109.1,269 258.5,269 258.5,456.5 44.5,456.5 44.5,374.2 50,370.7 53.7,368.7 56.5,367.6 66.5,365.3 76.5,364.5 80.5,363.4 82.5,362.5 85.5,360.8 88.4,358.8 93.4,354.8 96.5,351.5 98.3,348.8 100.3,344.8 102.3,338.8 104.9,328.8 106.4,320.9 107.3,312.9 108.5,296.9 109.1,271Z" fill="#9bceda"/>
<path d="M112.6,269 258.5,269 258.5,456.5 44.5,456.5 44.5,377.2 47.3,374.7 49.9,372.7 52.9,370.7 57.1,368.7 62.5,367.7 66.5,367.1 76.5,367.3 78.5,367.1 82.5,365.9 86.5,363.7 94.5,358.6 96.9,356.8 98.5,355.3 100.7,352.8 102.9,348.8 104.5,344.7 108,330.8 109.6,322.9 110.5,314.9 112,296.9 112.6,271Z" fill="#9eced6"/>
<path d="M116.1,269 258.5,269 258.5,456.5 44.5,456.5 44.5,383.3 47.6,378.7 51,374.7 53.4,372.7 56.5,370.8 60.5,369.8 64.5,369.4 68.5,369.8 76.5,371.5 78.5,371.6 80.5,371.3 82.5,370.6 84.5,369.5 90.8,364.7 98.5,360.2 100.5,358.7 102.5,356.8 104.5,354.2 106.5,350.3 108.3,344.8 112.3,326.8 113,322.9 115.3,296.9 116,271Z" fill="#a0ced2"/>
<path d="M119.3,269 258.5,269 258.5,456.5 44.5,456.5 44.5,394.7 48.5,393.4 51.3,392.7 54.5,391.4 57.5,390.7 58.5,389.9 60.5,389.2 62.8,388.7 62.5,388.3 58.5,387.8 56.5,387 54.5,385.6 53.9,384.7 53,382.7 52.9,380.7 53.4,378.7 54.3,376.7 56.5,374.4 58.5,373.3 60.5,372.6 62.5,372.6 64,372.7 66.5,373.7 68.1,374.7 69.5,376.7 69.9,378.7 69.6,380.7 68.5,383.3 67.5,384.7 68.5,386.1 70.5,385.8 74.5,384.6 78.5,382.5 84.5,377.3 86.5,375.4 89.9,370.7 91.6,368.7 92.5,367.9 94,366.7 100.5,363 102.5,361.5 105.3,358.8 106.9,356.8 108.2,354.8 110.1,350.8 111.4,346.8 115.7,326.8 116.3,322.9 118.5,296.9 119.3,271Z" fill="#a3cecf"/>
<path d="M122.5,269 258.5,269 258.5,456.5 44.5,456.5 44.5,401.2 56.5,398.7 63.4,396.7 68.3,394.7 72.2,392.7 78.7,388.7 83.7,384.7 88.5,380 91.2,376.7 94,372.7 95.7,370.7 97.9,368.7 102.5,365.4 106.5,361.7 109.1,358.8 110.5,356.8 112.5,353.1 113.5,350.8 114.9,346.8 115.8,342.8 118.9,326.8 119.5,322.9 121.7,296.9 122.4,271Z" fill="#a5cdcb"/>
<path d="M125.5,269 258.5,269 258.5,456.5 44.5,456.5 44.5,406.3 58.5,402.7 62.5,401.4 66.5,399.9 70.5,398 74.5,395.8 78.5,393.2 81.9,390.7 86.8,386.7 91,382.7 94.5,378.7 99.2,372.7 108.5,363.4 112.3,358.8 113.7,356.8 115.9,352.8 117.5,348.8 119.1,342.8 121.8,328.8 122.7,322.9 124.7,296.9 125.4,271Z" fill="#a8cdc8"/>
<path d="M128.4,271 128.5,269 258.5,269 258.5,456.5 44.5,456.5 44.5,410.9 58.5,406.8 66.5,403.8 70.5,401.9 74.5,399.7 78.5,397.1 82.5,394.1 91.4,386.7 97.4,380.7 115.5,358.8 116.9,356.8 119.2,352.8 120.8,348.8 122.4,342.8 124.3,332.8 125.8,322.9 127.8,296.9 128.4,273Z" fill="#abcdc4"/>
<path d="M131.6,269 258.5,269 258.5,456.5 44.5,456.5 44.5,415.4 58.5,410.8 62.5,409.3 68.5,406.6 72.5,404.6 76.5,402.2 80.5,399.3 84.5,396.2 95.9,386.7 98.5,384.2 101.8,380.7 105,376.7 112.1,366.7 118.8,358.8 120.2,356.8 122.4,352.8 124.6,346.8 126.2,340.8 127.9,330.8 129.3,320.9 131,296.9 131.5,271Z" fill="#adcdc1"/>
<path d="M134.7,269 258.5,269 258.5,456.5 44.5,456.5 44.5,419.9 58.5,414.9 66.5,411.4 72.5,408.3 76.5,406 82.5,401.6 100.4,386.7 104.4,382.7 109,376.7 112.4,370.7 114.5,367.6 122.2,358.8 124.7,354.8 127.1,348.8 128.5,344.8 129.6,340.8 132.4,322.9 133,316.9 134.2,296.9 134.6,271Z" fill="#b0cdbd"/>
<path d="M138.1,269 258.5,269 258.5,456.5 44.5,456.5 44.5,424.7 60.5,418.4 66.5,415.4 76.5,409.9 80.5,407.2 92.6,396.7 102.7,388.7 106.5,385.1 111.6,378.7 112.8,376.7 115.5,370.7 116.6,368.7 118.5,366.4 124.1,360.8 125.6,358.8 127.9,354.8 131.9,344.8 133,340.8 136.1,320.9 137.6,296.9 137.9,271Z" fill="#b2ccb9"/>
<path d="M141.7,269 258.5,269 258.5,456.5 44.5,456.5 44.5,429.9 62.5,422.2 78.5,412.8 82.5,410.1 94.7,398.7 105,390.7 108.5,387.5 114,380.7 115.4,378.7 118.5,370.8 119.9,368.7 126.5,362.1 128.5,359.3 130.1,356.8 134.5,346.8 136.1,342.8 136.9,338.8 139.7,320.9 141.3,296.9 141.6,271Z" fill="#b5ccb6"/>
<path d="M146.1,269 258.5,269 258.5,456.5 44.5,456.5 44.5,436 50.5,433 62.5,427.3 66.5,425.1 80.5,416 84.5,413.1 86.5,411.3 97.4,400.6 108.5,391.6 111.4,388.7 116.3,382.7 117.7,380.7 118.8,378.7 121.1,372.7 122.2,370.7 123.8,368.7 129.3,362.8 130.7,360.8 133.2,356.8 138.1,346.8 139.6,342.8 140.5,338.8 143.3,322.9 144,316.9 145.3,296.9 145.9,271Z" fill="#b7ccb2"/>
<path d="M151.4,269 258.5,269 258.5,456.5 44.5,456.5 44.5,443.1 60.5,434.4 66.5,430.9 72.5,426.8 82.5,419.5 88.5,414.6 100.5,402.6 110.5,393.7 115.2,388.7 119.9,382.7 122.1,378.7 125,372.7 126.3,370.7 132.5,362.8 137.5,354.8 141.8,346.8 143.3,342.8 144.8,336.8 147.5,322.9 148.2,316.9 149.7,298.9 150.6,277 151.1,271Z" fill="#baccaf"/>
<path d="M157.7,269 258.5,269 258.5,456.5 44.5,456.5 44.5,450.9 56.5,444.1 62.5,440.5 68.5,436.4 74.5,431.7 84.5,423.5 90.5,418.3 112.5,396 119,388.7 123.5,382.7 128.9,372.7 143.6,350.8 145.8,346.8 148.1,340.8 150.1,332.8 152.1,322.9 153.8,308.9 155.1,294.9 156.5,277.1 157.3,271Z" fill="#bdccab"/>
<path d="M165.1,269 258.5,269 258.5,456.5 49.6,456.5 60.5,450.5 64.5,447.9 68.5,444.8 72.5,441.3 79.4,434.6 92.5,422.2 101.9,412.6 114.5,398.3 125.9,384.7 128.5,380.7 132.8,372.7 137.6,364.7 140.5,360.6 145.1,354.8 147.9,350.8 150.2,346.8 152.7,340.8 154.4,334.8 156.8,324.9 158.9,312.9 163.1,281 164.7,271Z" fill="#bfcba8"/>
<path d="M173.2,269 258.5,269 258.5,456.5 66,456.5 70.5,453.4 74.5,449.6 83,438.5 102.5,417.9 109,410.6 121.4,394.7 130.1,384.7 132.6,380.7 138.5,368.7 140.9,364.7 144.5,360.4 149.9,354.8 151.5,352.8 154.1,348.8 156.2,344.8 158.6,338.8 159.8,334.8 163.6,320.9 171.2,281 173,271Z" fill="#c2cba4"/>
<path d="M181.1,269 258.5,269 258.5,456.5 78.7,456.5 80.5,454.5 81.8,452.5 85.4,444.5 88,440.5 98.2,428.6 110.8,414.6 113.9,410.6 123.7,396.7 126.5,393.4 133,386.7 134.6,384.7 135.8,382.7 138.7,376.7 142.1,368.7 143.2,366.7 144.5,364.9 146.5,362.9 151.8,358.8 154.5,356.2 157.3,352.8 161,346.8 163.9,340.8 167.3,330.8 171,320.9 173.7,308.9 176.2,298.9 178.3,288.9 180.1,279 181,271Z" fill="#c4cba0"/>
<path d="M187.4,269 258.5,269 258.5,456.5 87.1,456.5 88.5,453.3 90.5,446.5 91.3,444.5 92.7,442.5 103.3,428.6 115.4,414.6 126.5,398.1 128.5,395.9 136,388.7 137.8,386.7 139,384.7 143,376.7 145.2,370.7 146.5,368 148.5,365.9 150.5,364.5 154.5,362.3 156.7,360.8 158.8,358.8 160.7,356.8 163.7,352.8 169.1,344.8 170.3,342.8 174.1,332.8 178.5,326.3 179.4,324.9 180.1,322.9 180.6,320.9 181.7,312.9 185,302.9 185.8,298.9 187.1,287 187.3,271Z" fill="#c7cb9d"/>
<path d="M191.8,269 258.5,269 258.5,456.5 92.4,456.5 95.8,446.5 98,442.5 101.9,436.6 104.6,432.6 107.7,428.6 118.5,415.7 128.8,400.6 132.3,396.7 138.5,390.8 140.5,388.6 143.1,384.7 146.3,378.7 149.1,372.7 150.2,370.7 152.5,368.5 158.5,364.8 161.3,362.8 165.6,358.8 169.3,354.8 175.7,346.8 182.1,336.8 186.3,330.8 188.8,326.8 190.5,322.9 191.7,318.9 194.5,306.9 195.2,300.9 195.3,294.9 194.9,288.9 194,283 191.9,271Z" fill="#c9cb99"/>
<path d="M197.5,269 258.5,269 258.5,456.5 97,456.5 99.8,448.5 101.5,444.5 103.6,440.5 107.4,434.6 111.7,428.6 121.6,416.6 131.7,402.6 135.2,398.7 141.2,392.7 144.6,388.7 153.7,374.7 155.4,372.7 157.8,370.7 164.5,366.2 169,362.8 173.7,358.8 180,352.8 187.8,344.8 196.9,334.8 201.5,328.8 203.9,324.9 205.7,320.9 207.4,314.9 208.2,308.9 208,302.9 207,296.9 205.3,290.9 203.1,285 198.5,273.6 197.7,271Z" fill="#cccb96"/>
<path d="M215.3,269 227.9,269 229.5,271 230.6,273 231.1,275 231.2,277 230.9,279 230.5,280 229.7,281 228.5,281.7 226.5,282 224.5,281.7 222.5,280.9 220.5,279.6 218.5,278 216.5,275.9 214.9,273 214.5,271ZM257.1,306.9 258.5,305.9 258.5,456.5 101.3,456.5 104,448.5 106.6,442.5 109.9,436.6 114,430.6 117.1,426.6 125.3,416.6 134.5,404.8 145.7,392.7 149,388.7 154.5,381.3 158.5,376.9 162.5,373.6 175.8,364.7 196.5,350.1 206.5,343.5 229.4,328.8 235.2,324.9 240.4,320.9 250.5,312.1 256.5,307.3Z" fill="#cfca92"/>
<path d="M256.2,344.8 258.5,343.9 258.5,456.5 105.4,456.5 108,448.5 110.4,442.5 113.6,436.6 119.1,428.6 136.5,407.9 156.5,385.7 160.5,381.7 164.5,378.5 168.5,375.9 172.5,373.5 186.5,365.9 198.5,360 208.5,355.8 216.5,353.1 224.5,351 232.5,349.4 248.5,346.8 254.5,345.3Z" fill="#d1ca8f"/>
<path d="M256.2,358.8 258.5,358.1 258.5,456.5 109.3,456.5 112.3,446.5 113.9,442.5 117.2,436.6 119.8,432.6 122.6,428.6 134.5,415.1 144.4,404.6 154.5,393.6 160.5,387.9 162.5,386.2 166.5,383.3 170.5,381 174.5,378.9 184.5,374.4 196.5,370 206.5,366.9 214.5,364.9 222.5,363.4 230.5,362.3 246.5,360.5 254.5,359.2Z" fill="#d4ca8b"/>
<path d="M247.9,370.7 254.5,369.9 258.5,369.1 258.5,456.5 113.1,456.5 115.8,446.5 117.4,442.5 123.2,432.6 126.1,428.6 138.5,415.5 146.5,408 154.8,398.7 160.5,393.6 164.5,390.5 166.5,389.2 172.5,386.1 182.5,382.1 190.5,379.6 198.5,377.6 210.5,375.1 220.5,373.5 230.5,372.3 246.5,370.9Z" fill="#d6ca88"/>
<path d="M256.9,378.7 258.5,378.4 258.5,456.5 116.8,456.5 118.6,448.5 119.9,444.5 120.8,442.5 125.4,434.6 128,430.6 140.5,417.9 149.3,410.6 150.5,409.4 156.4,402.6 158.5,400.6 166.5,394.9 168.5,393.7 172.5,392 184.5,388.2 190.5,386.6 218.5,382.5 256.5,378.8Z" fill="#d9ca84"/>
<path d="M254.7,386.7 258.5,386 258.5,456.5 120.2,456.5 121.9,448.5 123.3,444.5 128.5,435 130.5,432.1 132.5,429.9 142.5,420.2 152.3,412.6 160.5,404.5 163.2,402.6 168.5,399.5 170.5,398.5 174.5,397 186.5,394 190.5,393.3 237.6,388.7 254.5,386.7Z" fill="#dcc980"/>
<path d="M258,392.7 258.5,392.6 258.5,456.5 123.4,456.5 125.2,448.5 126.7,444.5 131,436.6 133.9,432.6 140.5,426 146.5,420.8 155,414.6 162.5,408.6 164.5,407.2 168.5,405 172.5,403.3 176.5,402 182.5,400.6 188.5,399.6 196.5,398.8 220.5,397.3 234.5,396.1 246.5,394.7 256.5,393Z" fill="#dec97d"/>
<path d="M257.3,398.7 258.5,398.4 258.5,456.5 126.6,456.5 128.5,448.7 130.1,444.5 133.2,438.5 136,434.6 137.8,432.6 142.5,428 148.5,423 162.5,413.5 168.5,410.2 172.5,408.5 176.5,407.3 180.5,406.4 186.5,405.4 196.5,404.5 218.5,403.4 230.5,402.5 246.5,400.7 256.5,398.9Z" fill="#e1c979"/>
<path d="M253.3,404.6 258.5,403.5 258.5,456.5 129.9,456.5 131.3,450.5 133.5,444.5 136.5,439 139.9,434.6 142.5,431.9 146.2,428.6 152.5,423.8 162.5,417.8 168.5,414.8 172.5,413.3 176.5,412.1 180.5,411.3 186.5,410.4 196.5,409.5 216.5,408.5 226.5,407.8 240.5,406.4 252.5,404.8Z" fill="#e3c976"/>
<path d="M255.7,408.6 258.5,408 258.5,456.5 133.3,456.5 134.7,450.5 136.9,444.5 139.1,440.5 142.5,436.2 144.5,434.1 148.4,430.6 154.5,426.1 160.5,422.7 168.5,419.1 172.5,417.6 176.5,416.6 180.5,415.8 186.5,414.9 198.5,413.8 218.5,412.7 226.5,412.1 244.5,410.2 254.5,408.9Z" fill="#e6c972"/>
<path d="M255.4,412.6 258.5,412 258.5,456.5 136.8,456.5 138.5,449.7 140.5,444.5 143,440.5 146.5,436.6 150.9,432.6 153.4,430.6 156.5,428.5 162.5,425.4 168.5,423 172.5,421.6 178.5,420.2 192.5,418.3 200.5,417.5 224.5,416 254.5,412.8Z" fill="#e8c96f"/>
<path d="M250.6,416.6 258.5,415.6 258.5,456.5 140.6,456.5 142,450.5 143.4,446.5 144.3,444.5 145.6,442.5 148.5,439.2 154.5,433.8 158.5,431 162.5,429 169,426.6 172.5,425.4 176.5,424.4 196.5,421.4 224.5,419.2 250.5,416.6Z" fill="#ebc86b"/>
<path d="M240.1,420.6 244.5,420.1 248.5,419.3 258.5,418.6 258.5,456.5 144.5,456.5 145.2,452.5 146.1,450.5 147.2,446.5 148.6,444.5 150.5,442.4 158.5,434.8 160.5,433.4 164.5,431.9 166.5,431 168.5,430.6 170.5,429.5 172.5,428.8 173.8,428.6 176.5,427.6 178.5,427.1 184.5,426.6 186.5,426.3 190.5,425.2 192.5,424.9 200.5,424.1 206.5,423.3 219.2,422.6 222.5,422.3 230.5,421.1 238.5,420.7Z" fill="#eec867"/>
<path d="M250.9,420.6 258.5,419.6 258.5,456.5 146.3,456.5 147.8,450.5 148.5,448.5 149.5,446.5 150.5,444.9 152.6,442.5 159,436.6 160.5,435.4 162.5,434.2 174.5,429.7 182.5,428 190.5,426.8 196.5,425.6 208.9,424.6 216.5,423.7 226.5,423 236.5,421.8 250.5,420.6Z" fill="#f0c864"/>
<path d="M257.9,420.6 258.5,420.5 258.5,456.5 147.7,456.5 148.7,452.5 150,448.5 151,446.5 152.5,444.5 154.3,442.5 160.5,436.8 162.5,435.6 164.6,434.6 174.5,430.8 178.5,429.8 198.5,426.3 238.9,422.6 256.5,420.8Z" fill="#f0c663"/>
<path d="M246.6,422.6 258.5,421.2 258.5,456.5 149,456.5 150.8,450.5 152.5,446.9 154.2,444.5 158.2,440.5 160.5,438.4 163.1,436.6 167.5,434.6 174.5,431.9 179.4,430.6 198.5,427.1 246.5,422.6Z" fill="#f0c561"/>
<path d="M253.2,422.6 258.5,422 258.5,456.5 150.4,456.5 151.7,452.5 153.3,448.5 154.5,446.5 157.9,442.5 162.3,438.5 164.5,437.2 170.3,434.6 174.5,432.9 180.5,431.3 198.5,427.9 224.5,425.3 242.5,423.8 252.5,422.7Z" fill="#f0c360"/>
<path d="M242.2,424.6 258.5,422.7 258.5,456.5 151.9,456.5 153.3,452.5 155.1,448.5 156.4,446.5 159.7,442.5 161.9,440.5 164.5,438.5 168.3,436.6 174.5,434 180.5,432.3 198.5,428.7 224.5,426 240.5,424.7Z" fill="#f0c15e"/>
<path d="M249,424.6 258.5,423.4 258.5,456.5 153.4,456.5 155,452.5 156.9,448.5 158.5,446.2 161.6,442.5 163.9,440.5 167,438.5 171,436.6 176.5,434.3 183.4,432.6 198.5,429.5 224.5,426.7 240.5,425.5 248.5,424.6Z" fill="#f0c05d"/>
<path d="M254.4,424.6 258.5,424.1 258.5,456.5 155,456.5 156.7,452.5 158.8,448.5 161.7,444.5 163.7,442.5 166.2,440.5 169.5,438.5 174.5,436.2 178.5,434.7 187.5,432.6 198.5,430.3 224.5,427.4 240.5,426.3 252.5,424.9Z" fill="#f0be5c"/>
<path d="M244.9,426.6 258.5,424.8 258.5,456.5 156.7,456.5 158.5,452.4 160.5,448.8 162,446.5 163.7,444.5 165.9,442.5 168.6,440.5 172,438.5 176.5,436.5 184.5,434.2 192.5,432.3 198.5,431.1 224.5,428.1 244.5,426.6Z" fill="#f0bd5a"/>
<path d="M250.9,426.6 258.5,425.5 258.5,456.5 158.3,456.5 160.5,452.1 162.5,448.7 164.1,446.5 165.9,444.5 168.2,442.5 171,440.5 174.6,438.5 179.5,436.6 188.5,434.1 198.5,431.9 226.5,428.6 240.5,427.8 250.5,426.6Z" fill="#f0bb59"/>
<path d="M255.8,426.6 258.5,426.2 258.5,456.5 160.1,456.5 162.5,451.8 164.5,448.7 166.2,446.5 168.1,444.5 170.5,442.5 174.5,440 177.3,438.5 182.9,436.6 192.5,434 200.5,432.4 212.5,431.2 222.5,429.8 242.5,428.4 250.5,427.5 254.5,426.8Z" fill="#f0b958"/>
<path d="M247.8,428.6 252.5,428.1 258.5,427.2 258.5,456.5 162.1,456.5 164.5,452 166.5,449 168.4,446.5 170.5,444.5 176.5,440.4 178.5,439.6 180.4,438.5 184.5,437.3 186.3,436.6 190.5,435.6 194.5,434.4 206.3,432.6 214.5,431.8 222.5,430.5 238.5,429.7 246.5,428.8Z" fill="#f0b856"/>
<path d="M257,428.6 258.5,428.4 258.5,456.5 165,456.5 167.5,452.5 170.5,448.5 172.3,446.5 174.5,444.5 177.2,442.5 180.7,440.5 185.5,438.5 188.5,437.6 194.5,435.9 200.5,434.7 224.5,431.5 244.5,430.3 256.5,428.6Z" fill="#f0b655"/>
<path d="M253.5,430.6 258.5,429.9 258.5,456.5 168.4,456.5 171.2,452.5 174.3,448.5 176.2,446.5 178.5,444.5 181.5,442.5 184.5,441 190.8,438.5 196.5,437 200.5,436.2 224.5,432.8 242.5,431.8 252.5,430.7Z" fill="#f0b553"/>
<path d="M249.8,432.6 258.5,431.5 258.5,456.5 171.9,456.5 174.9,452.5 178.2,448.5 180.1,446.5 182.5,444.6 186.5,442.1 190.2,440.5 192.5,439.8 196.8,438.5 202.5,437.4 222.5,434.4 228.5,433.9 240.5,433.4 248.5,432.7Z" fill="#f0b352"/>
<path d="M244.5,434.6 258.5,433.2 258.5,456.5 175.5,456.5 180.2,450.5 183.9,446.5 186.4,444.5 188.5,443.3 190.5,442.4 194.5,441 198.5,439.8 204.5,438.6 222.5,435.9 228.5,435.3 242.5,434.7Z" fill="#f0b151"/>
<path d="M232.6,436.6 244.5,436.1 258.5,434.9 258.5,456.5 179.2,456.5 185.5,448.5 187.5,446.5 190.5,444.5 194.5,442.9 202.5,440.6 210.5,439.1 222.5,437.3 232.5,436.6Z" fill="#f0b04f"/>
<path d="M224.9,438.5 230.5,438.1 246.5,437.5 258.5,436.6 258.5,456.5 182.8,456.5 187.2,450.5 189,448.5 191.5,446.5 195.6,444.5 200.5,442.9 206.5,441.4 214.5,440 224.5,438.6Z" fill="#f0ae4e"/>
<path d="M256.8,438.5 258.5,438.4 258.5,456.5 186.1,456.5 190.5,450.7 192.9,448.5 196.5,446.4 200.5,444.8 204.5,443.7 209.2,442.5 214.5,441.5 224.5,440.1 230.5,439.7 256.5,438.6Z" fill="#f0ad4c"/>
<path d="M221.5,442.5 232.5,441.9 258.5,440.8 258.5,456.5 190,456.5 192.5,453.4 194.5,451.3 196.5,449.8 198.6,448.5 203.2,446.5 208.5,444.9 214.5,443.8 216.5,443.3 220.5,442.7Z" fill="#f0ab4b"/>
<path d="M228,446.5 236.5,446.1 258.5,445.7 258.5,456.5 198.7,456.5 201,454.5 204,452.5 208.1,450.5 210.5,449.6 214.5,448.5 218.5,447.7 226.5,446.6Z" fill="#f0a94a"/>
<path d="M221.6,452.5 228.5,451.7 234.5,451.3 258.5,451 258.5,456.5 209.7,456.5 214.5,454.2 220.5,452.7Z" fill="#f0a848"/>
<clipPath id="clipc"><rect x="44.5" y="269" width="214" height="187.5"/></clipPath>
<path d="M94.4,265.9C94.4,266.4 94.4,263.9 94.3,268.9C94.2,274 94.2,287.5 93.7,296.1C93.3,304.7 92.8,314 91.9,320.5C90.9,327.1 89.8,330.9 88.1,335.5C86.4,340.2 83.9,345.1 81.5,348.7C79.2,352.3 77.2,355 74,357.1C70.9,359.2 65.9,360.2 62.8,361.4C59.6,362.6 58.2,363.2 55.3,364.3C52.3,365.3 47.1,366.9 44.9,367.6C42.7,368.3 42.6,368.4 42.1,368.6M119.5,265.9C119.5,266.4 119.6,263.9 119.5,268.9C119.3,274 119.2,286.9 118.7,296.1C118.2,305.4 117.5,315.8 116.3,324.3C115.1,332.7 113.1,341.3 111.6,346.8C110,352.3 108.5,354.6 106.9,357.1C105.3,359.7 104.5,360.2 102.2,362C99.8,363.8 95.3,365.4 92.8,367.6C90.3,369.8 89.7,372.5 87.2,375.1C84.7,377.8 81.9,381.1 77.8,383.6C73.7,386.1 68.2,388.3 62.8,390.1C57.3,392 48.4,393.9 44.9,394.8C41.5,395.7 42.5,395.5 42,395.6M141.7,265.9C141.6,266.4 141.7,263.9 141.6,268.9C141.5,274 141.6,287.5 141.2,296.1C140.9,304.7 140.6,312.7 139.7,320.5C138.9,328.4 137.5,337.1 136,343C134.4,349 131.9,353 130.4,356.2C128.8,359.3 128.5,359.8 126.6,362C124.7,364.2 121,366.7 119.1,369.5C117.2,372.3 117.2,375.8 115.3,378.9C113.5,382 111.3,385 107.8,388.3C104.4,391.6 99.1,394.8 94.7,398.6C90.3,402.3 86.9,406.9 81.5,410.8C76.2,414.7 68.9,418.9 62.8,422C56.7,425.2 48.4,428.1 44.9,429.5C41.5,431 42.6,430.5 42.2,430.7M187.3,265.9C187.3,266.4 187.3,265.5 187.2,268.9C187.1,272.4 187.1,281.3 186.7,286.8C186.3,292.2 185.7,297.4 184.8,301.8C183.9,306.2 182,309.3 181,313C180.1,316.8 180.4,321 179.2,324.3C177.9,327.6 175.1,329.6 173.5,332.7C172,335.9 171.6,339.5 169.8,343C167.9,346.6 164.8,351.1 162.3,354.3C159.8,357.5 156.6,360.4 154.8,362C152.9,363.6 152.4,362.9 151,363.9C149.6,364.8 147.6,365.8 146.3,367.6C145.1,369.5 144.9,372 143.5,375.1C142.1,378.3 140.7,382.6 137.9,386.4C135,390.1 130.4,393 126.6,397.6C122.8,402.3 119.4,409.2 115.3,414.5C111.3,419.9 106.3,424.5 102.2,429.5C98.1,434.5 93.4,440.1 90.9,444.6C88.4,449 88,453.6 87.2,456C86.4,458.4 86.4,458.4 86.2,458.9M261,381C260.5,381.1 265.4,380.6 258,381.3C250.6,382.1 228.3,384.1 216.7,385.5C205.1,386.8 196.4,387.6 188.5,389.2C180.7,390.8 174.8,392.6 169.8,394.8C164.8,397 161.6,399.7 158.5,402.3C155.4,405 153.8,408.1 151,410.8C148.2,413.4 145.4,414.8 141.6,418.3C137.9,421.7 131.9,427 128.5,431.4C125,435.8 122.7,440.5 121,444.6C119.2,448.7 118.7,453.6 118.1,456C117.6,458.4 117.6,458.4 117.4,458.9M261,418.9C260.5,419 263.8,418.6 258,419.2C252.2,419.8 236.1,421.5 226.1,422.4C216.1,423.4 206.4,423.8 197.9,424.9C189.5,425.9 181.7,427 175.4,428.6C169.1,430.2 164.5,431.9 160.4,434.2C156.3,436.6 153,440.6 151,442.7C149,444.7 149.1,444.2 148.2,446.4C147.2,448.7 146,453.9 145.4,456C144.8,458.1 144.7,458.4 144.5,458.9" fill="none" stroke="#2a2a2a" stroke-opacity="0.55" stroke-width="0.35" clip-path="url(#clipc)"/></g>
<rect x="44.5" y="269" width="214" height="187.5" fill="none" stroke="#444" stroke-width="1"/>
<g><rect x="399.5" y="270.5" width="214" height="186.5" fill="#aacdc5"/>
<path d="M399.5,270.5 613.5,270.5 613.5,457 411.4,457 410.6,453 410.4,447.1 412.6,423.3 412.8,415.3 412.6,409.4 411.6,399.5 410.1,391.5 408,383.6 403.7,369.7 402.8,365.7 402.5,363.8 402.4,361.8 402.7,357.8 404.4,339.9 404.6,334 404.6,326.1 404,316.1 402.9,306.2 401.4,296.3 399.5,286.4 399.5,272.5Z" fill="#accdc2"/>
<path d="M403.9,270.5 613.5,270.5 613.5,457 428.1,457 426.4,449.1 425.3,441.1 424.9,435.2 424.1,415.3 423.5,408.6 422.6,401.4 420.6,389.5 416,369.7 414.6,361.8 414.1,355.8 413.8,339.9 413.4,330 412.5,320.1 411.4,310.2 409.5,296.7 407.8,286.4 406.1,278.4 404.5,272.5Z" fill="#afcdbf"/>
<path d="M412.4,270.5 613.5,270.5 613.5,457 439.7,457 437.4,447.1 435.8,439.1 434.9,433.2 433.3,417.3 431.7,405.4 429.2,389.5 424.3,361.8 423.1,351.8 421,330 419.4,316.1 415.1,284.4 413.7,276.5 412.9,272.5Z" fill="#b1cdbb"/>
<path d="M420.1,270.5 613.5,270.5 613.5,457 449.1,457 444.8,441.1 443.4,435.2 439.7,411.4 436.9,395.5 430.1,349.9 423.7,300.3 420.5,272.5Z" fill="#b3ccb8"/>
<path d="M426.9,270.5 613.5,270.5 613.5,457 457.2,457 450.8,437.2 449.7,433.2 442.5,395.5 435.1,343.9 429.9,302.2 427.2,272.5Z" fill="#b5ccb5"/>
<path d="M432.1,270.5 613.5,270.5 613.5,457 463.8,457 457.2,439.1 455.2,433.2 450.2,411.4 446.9,395.5 440.2,347.9 436.1,314.1 434.4,298.3 432.4,272.5Z" fill="#b8ccb2"/>
<path d="M436.7,270.5 613.5,270.5 613.5,457 469.8,457 463.1,441.1 459.5,431.2 453.3,407.4 450.8,395.5 444.7,351.8 440.8,318.1 439,300.3 437.6,278.4 437,272.5Z" fill="#baccaf"/>
<path d="M440.9,270.5 613.5,270.5 613.5,457 475.7,457 468.9,443.1 466.3,437.2 464,431.2 462.1,425.3 457,407.4 454.7,397.5 453.7,391.5 448.7,355.8 447.3,343.9 443.5,306.2 442.7,296.3 441.8,278.4 441.2,272.5Z" fill="#bcccac"/>
<path d="M444.8,270.5 613.5,270.5 613.5,457 481.5,457 477.5,450 473.5,442.5 470.9,437.2 468.3,431.2 466.2,425.3 460.6,407.4 458.9,401.4 458,397.5 457,391.5 452.3,357.8 451,347.9 447.2,308.2 446.6,298.3 445.6,278.4 445.1,272.5Z" fill="#becca9"/>
<path d="M448.4,270.5 613.5,270.5 613.5,457 487.4,457 483.5,450.9 477.5,440.9 474.4,435.2 472.5,431.2 470.2,425.3 463.5,405.6 462.2,401.4 461.2,397.5 460.2,391.5 454.3,349.9 450.5,308.2 449.1,278.4 448.7,272.5Z" fill="#c1cba6"/>
<path d="M451.8,270.5 613.5,270.5 613.5,457 493.5,457 489.5,451.5 485.5,445.6 479.5,436.3 476.6,431.2 474.8,427.2 473.3,423.3 466.1,403.4 464.3,397.5 463.5,393.5 461.3,377.6 457.9,355.8 457.2,349.9 453.6,308.2 452,272.5Z" fill="#c3cba2"/>
<path d="M454.9,270.5 613.5,270.5 613.5,457 499.9,457 499.5,456.5 495.5,451.7 491.5,446.4 482.1,433.2 479.7,429.2 477.5,424.3 468.5,401.4 467.2,397.5 466.5,393.5 464.2,377.6 460.7,355.8 459.9,349.9 456.4,308.2 455.1,272.5Z" fill="#c5cb9f"/>
<path d="M457.8,270.5 613.5,270.5 613.5,457 506.7,457 497.5,446.9 485.5,431.4 482.7,427.2 470.9,399.5 469.7,395.5 463,353.8 462.6,349.9 459.1,308.2 458,272.5Z" fill="#c7cb9c"/>
<path d="M460.5,270.5 613.5,270.5 613.5,457 514.2,457 511.5,454.7 501.5,444.6 488.6,429.2 487,427.2 485.8,425.3 484.8,423.3 474.1,399.5 473.3,397.5 472.3,393.5 465.6,353.8 465.1,349.9 461.6,308.2 460.6,272.5Z" fill="#cacb99"/>
<path d="M463,270.5 613.5,270.5 613.5,457 523.9,457 519.5,454.3 515.5,451.3 507.5,444.2 501.5,438.2 491.8,427.2 489.5,424.1 487.5,420.6 481.5,408.5 476.5,397.5 475.3,393.5 472.9,381.6 468.1,353.8 467.3,347.9 464,308.2 463.1,272.5Z" fill="#cccb96"/>
<path d="M465.3,270.5 613.5,270.5 613.5,457 536.9,457 531.5,454.7 527.5,452.8 521.5,449.2 517.5,446.4 511.5,441.7 505.5,436.2 499.5,430.2 495.1,425.3 491.5,420.4 488.5,415.3 484.3,407.4 480.5,399.5 478.9,395.5 477.8,391.5 475.1,379.6 470.5,353.8 469.3,343.9 466.3,308.2 465.4,272.5Z" fill="#ceca93"/>
<path d="M467.6,270.5 613.5,270.5 613.5,456.8 607.5,456.3 599.5,456.2 574,457 563.5,457 559.5,456.7 553.5,455.7 549.5,454.9 543.5,453.2 537.5,451.2 531.5,448.6 525.5,445.5 519.5,441.8 513.5,437.4 507.5,432.5 501.5,426.7 496.6,421.3 493.5,417.1 489.5,410.7 486.6,405.4 483.7,399.5 482.1,395.5 480.7,391.5 478.6,383.6 477.2,377.6 472.6,351.8 471.4,341.9 468.6,308.2 467.7,272.5Z" fill="#d1ca90"/>
<path d="M469.8,270.5 613.5,270.5 613.5,451.8 607.5,451.2 601.5,451 573.5,451.2 563.5,450.9 559.5,450.5 553.5,449.6 543.5,447.1 535.5,444.4 529.5,441.8 523.5,438.5 517.5,434.7 511.5,430.4 505.5,425.3 501.5,421.3 497.5,416.6 493.5,411.1 491.1,407.4 488.9,403.4 486.1,397.5 483.7,391.5 481.8,385.6 480.7,381.6 479.4,375.7 475,351.8 473.7,341.9 470.8,308.2 469.9,272.5Z" fill="#d3ca8c"/>
<path d="M472,270.5 613.5,270.5 613.5,447.1 601.5,446.2 575.5,445.5 563.5,444.8 557.5,444 551.5,443 545.5,441.7 539.5,440.1 533.5,437.9 527.5,435.1 519.5,430.7 513.5,426.7 509.5,423.6 505.5,420 501.5,415.7 497.5,411 493.5,405.5 491.2,401.4 487.5,393.1 484,383.6 482.8,379.6 481.9,375.7 477.3,351.8 476.3,345.9 475.9,341.9 472.9,308.2 472.1,272.5Z" fill="#d5ca89"/>
<path d="M474.2,270.5 613.5,270.5 613.5,442.7 601.5,441.6 575.5,440.1 565.5,439.1 555.5,437.8 547.5,436.4 541.5,435.1 537.5,433.9 531.5,431.6 525.5,428.7 517.5,424.4 513.5,421.8 510.4,419.3 507.5,416.6 501.5,410.4 497.5,405.8 495.5,402.9 493.5,399.2 487.5,385.3 485.5,380 484.4,375.7 478.9,347.9 478.1,341.9 475,308.2 474.3,272.5Z" fill="#d7ca86"/>
<path d="M476.4,270.5 613.5,270.5 613.5,438.4 573.5,434.7 547.5,431 543.5,430.3 539.5,429.4 533.8,427.2 521.5,421.7 517.5,419.6 515.5,418.4 511.9,415.3 501.5,405.4 499.7,403.4 498.3,401.4 497.2,399.5 488.1,379.6 487,375.7 480.9,345.9 477.2,308.2 476.4,272.5Z" fill="#daca83"/>
<path d="M478.5,270.5 613.5,270.5 613.5,434.2 577.5,430.4 541.5,425 537.5,423.6 521.5,417 518.2,415.3 515.5,413.2 511.5,409.4 502.4,401.4 501,399.5 499.9,397.5 491.5,380.6 490.3,377.6 483.2,345.9 482.7,341.9 479.3,308.2 478.6,272.5Z" fill="#dcc980"/>
<path d="M480.7,270.5 613.5,270.5 613.5,430.1 577.5,425.9 547.5,421.3 541.5,420 537.5,418.6 527.5,414.8 521.5,412.1 517.5,409.3 507.9,401.4 505.5,399.1 503,395.5 495.4,381.6 493.5,377.6 492.3,373.7 485.7,345.9 484.8,339.9 481.5,308.2 480.7,272.5Z" fill="#dec97d"/>
<path d="M482.8,270.5 613.5,270.5 613.5,426.1 587.5,422.9 573.5,421 551.5,417.5 545.5,416.3 541.5,415.3 531.5,411.8 527.5,410.2 523.5,408.2 519.5,405.6 513.5,401.1 509.5,397.5 507.7,395.5 505.5,392.5 501.5,386 497.9,379.6 496.1,375.7 493.5,367 488.2,345.9 487.5,341.9 486.7,336 483.8,308.2 483.5,302.2 482.8,272.5Z" fill="#e0c97a"/>
<path d="M485,270.5 613.5,270.5 613.5,422.1 585.5,418.6 567.5,415.9 551.5,413.2 541.5,410.8 535.5,408.8 531.5,407.3 527.5,405.5 523.5,403.2 519.5,400.6 515.4,397.5 511.5,393.8 509.5,391.5 505.5,385.9 502.8,381.6 500.5,377.6 498.8,373.7 497.3,369.7 495,361.8 491.8,349.9 490.4,343.9 489.5,338.5 488.7,332 486,306.2 485.6,298.3 485,272.5Z" fill="#e3c976"/>
<path d="M487.2,270.5 613.5,270.5 613.5,418.1 585.5,414.5 565.5,411.5 551.5,408.9 541.5,406.4 533.3,403.4 529.5,401.7 525.4,399.5 521.5,396.9 517.5,393.8 514.9,391.5 511.5,387.8 508.3,383.6 505.6,379.6 503.4,375.7 501.5,371.7 499.5,366.4 497.3,359.8 494.6,349.9 492.7,341.9 491.1,332 488.3,306.2 487.9,298.3 487.2,272.5Z" fill="#e5c973"/>
<path d="M489.5,270.5 613.5,270.5 613.5,414 587.5,410.6 567.5,407.8 555,405.4 543.5,402.5 539.5,401.3 534.8,399.5 531.5,398 527.1,395.5 523.5,393.1 519.5,390 516.8,387.6 513.5,384.1 510,379.6 507.5,375.8 505.5,372.1 503.5,367.7 501.5,362.8 499.5,357 497.5,349.9 495,339.9 493.5,330.9 490.6,304.2 490.1,296.3 489.5,272.5Z" fill="#e7c970"/>
<path d="M491.8,270.5 613.5,270.5 613.5,410 567.5,403.6 556.6,401.4 543.5,398 539.5,396.7 535.5,395.1 532.3,393.5 529,391.5 525.5,389.2 521.5,386 517.5,382.4 515.5,380.3 513.3,377.6 510.6,373.7 507.5,368 504.6,361.8 503,357.8 501.7,353.8 497.4,338 496,330 492.9,302.2 491.8,272.5Z" fill="#e9c86d"/>
<path d="M494.2,270.5 613.5,270.5 613.5,405.9 567.5,399.4 558.6,397.5 543.5,393.4 537.5,391.2 534.4,389.5 531.5,387.7 521.5,380.3 517.5,376.4 515.4,373.7 513.5,370.7 508.4,361.8 506.5,357.8 505,353.8 499.8,336 498.8,330 495.4,302.2 495.1,296.3 494.3,272.5Z" fill="#ecc86a"/>
<path d="M496.8,270.5 613.5,270.5 613.5,401.6 567.5,395.1 563.5,394.2 543.5,388.6 539.5,387.1 536.8,385.6 523.5,376.1 520.7,373.7 519.2,371.7 517.9,369.7 511.5,359.7 509.4,355.8 503.5,338 501.9,332 500.8,322.1 497.8,300.3 496.9,272.5Z" fill="#eec867"/>
<path d="M498.3,270.5 613.5,270.5 613.5,398.9 607.5,398.2 567.5,392.4 565.5,391.9 549.5,387.2 545.5,386.2 541.5,384.8 539.5,383.7 531,377.6 525.5,374.1 522.7,371.7 521.1,369.7 515.9,361.8 513,357.8 510.9,353.8 507.7,343.9 504.7,336 503.9,332 502.7,324.1 502.1,318.1 500.8,310.2 499.7,300.3 498.9,286.4 498.3,272.5Z" fill="#f0c864"/>
<path d="M499.5,270.5 613.5,270.5 613.5,397.4 569.5,391.1 565.5,390.2 545.5,384.4 543.2,383.6 539.5,381.6 527.5,373.5 525.1,371.7 523.5,370.1 513.4,355.8 511.7,351.8 505.5,334 504.7,330 500.7,300.3 499.5,272.5Z" fill="#f0c663"/>
<path d="M500.5,270.5 613.5,270.5 613.5,395.9 569.5,389.4 563.5,388 548.6,383.6 543.5,381.8 541.5,380.8 529.5,372.8 527.5,371.4 525.5,369.7 523.5,367.4 516.4,357.8 514,353.8 512.4,349.9 506.7,334 505.9,330 501.7,300.3 500.5,272.5Z" fill="#f0c561"/>
<path d="M501.5,270.5 613.5,270.5 613.5,394.3 571.5,388.1 565.5,386.8 551.5,382.7 545.5,380.7 541.5,378.7 530.7,371.7 528.1,369.7 525.5,367.2 518.2,357.8 515.5,353.7 513.5,349.1 509.5,338.5 507.5,332.3 506.7,328 502.7,300.3 501.5,272.5Z" fill="#f0c460"/>
<path d="M502.6,270.5 613.5,270.5 613.5,392.7 581.5,388.1 571.5,386.4 565.5,385.1 553.6,381.6 547.5,379.5 543.5,377.7 541.5,376.6 531.5,370.2 528.5,367.7 526.5,365.7 523.5,362.3 519.5,357.1 517.5,354.2 516.2,351.8 514.5,347.9 510.6,338 508.7,332 507.5,325.6 503.8,300.3 503.4,294.3 502.6,272.5Z" fill="#f0c25f"/>
<path d="M503.8,270.5 613.5,270.5 613.5,391.1 589,387.6 573.5,385.1 565.5,383.3 555.5,380.4 547.5,377.6 541.5,374.6 533.5,369.5 529.5,366.3 527.5,364.4 521.5,357.2 519.5,354.4 517.9,351.8 516,347.9 513.5,341.8 511.2,336 510,332 509.1,328 508.2,322.1 504.9,300.3 504.4,292.3 503.7,272.5Z" fill="#f0c15e"/>
<path d="M504.9,270.5 613.5,270.5 613.5,389.4 587,385.6 574.8,383.6 565.5,381.5 555.5,378.6 547.5,375.6 543.5,373.7 540.1,371.7 533.5,367.3 529.5,363.9 527.5,361.9 522.4,355.8 519.7,351.8 518.6,349.9 516.7,345.9 513.5,338.2 511.3,332 509.5,323 506.1,300.3 505.5,292.3 504.9,272.5Z" fill="#f0bf5d"/>
<path d="M506.1,270.5 613.5,270.5 613.5,387.8 587.5,383.9 575.5,381.9 565.5,379.7 555.5,376.7 551.5,375.3 547.5,373.6 543.5,371.6 539.5,369.2 533.5,365.1 529.8,361.8 527.5,359.4 522.9,353.8 521.5,351.7 519.5,348.3 517.5,344.1 514.9,338 513.4,334 512.2,330 511.3,326.1 509.9,318.1 507.2,300.3 506.6,290.3 506.1,272.5Z" fill="#f0be5b"/>
<path d="M507.4,270.5 613.5,270.5 613.5,386.1 589.5,382.5 575.5,380.1 565.5,377.8 557.5,375.5 549.5,372.5 545.5,370.6 541.5,368.3 537.5,365.8 534.8,363.8 531.5,361 528.4,357.8 525.5,354.4 523.6,351.8 521.5,348.6 520,345.9 517.5,340.5 515.6,336 513.5,329.5 511.5,319.8 508.5,300.3 507.7,288.4 507.3,272.5Z" fill="#f0bd5a"/>
<path d="M508.7,270.5 613.5,270.5 613.5,384.3 593.5,381.3 577.5,378.7 567.5,376.5 557.9,373.7 549.5,370.4 545.5,368.4 541.5,366.2 535.2,361.8 532.9,359.8 529.5,356.4 525.5,351.6 523.5,348.7 521.5,345.3 519.5,341.3 517.2,336 515.7,332 514.6,328 513.3,322.1 511.5,312.2 509.5,298.3 508.8,284.4 508.6,272.5Z" fill="#f0bb59"/>
<path d="M510,270.5 613.5,270.5 613.5,382.5 594.2,379.6 579.5,377.2 569.5,375 559.5,372.2 551.5,369.2 547.5,367.3 543.5,365.1 537.5,361.1 533.5,357.8 531.4,355.8 527.9,351.8 525.5,348.6 523.5,345.5 521.6,341.9 518,334 516.7,330 515.6,326.1 512.9,312.2 511.6,304.2 510.8,298.3 510,284.4 509.9,272.5Z" fill="#f0ba58"/>
<path d="M511.4,270.5 613.5,270.5 613.5,380.7 593.4,377.6 579.5,375.2 569.5,373 559.5,370.1 551.5,367.1 547.5,365.1 543.5,362.9 537.5,358.7 534.1,355.8 531.5,353.2 527.2,347.9 523.5,341.9 521.5,338.1 519.7,334 518.3,330 517.1,326.1 515.5,318.9 514.3,312.2 513,304.2 512.2,298.3 511.4,286.4 511.2,278.4 511.3,272.5Z" fill="#f0b857"/>
<path d="M512.9,270.5 613.5,270.5 613.5,378.8 595.5,376.1 581.7,373.7 572.3,371.7 565.5,369.9 559.5,368 553.5,365.7 549.5,363.9 545.5,361.8 539.5,357.8 535.5,354.4 532.9,351.8 529.5,348 527.5,345.1 525.5,342 523.5,338.3 521.5,334 519.5,328.6 517.5,321.2 515.3,310.2 513.5,297.3 513.1,292.3 512.8,284.4 512.8,272.5Z" fill="#f0b755"/>
<path d="M514.9,270.5 613.5,270.5 613.5,376.4 593.5,373.1 579.5,370.5 569.5,368.2 561.5,365.8 553.5,362.7 549.5,360.8 545.5,358.6 539.5,354.3 534.6,349.9 531.5,346.3 529.5,343.7 527.5,340.6 525.5,337 522.4,330 519.9,322.1 517.5,311 516.4,304.2 515.5,297.6 515.1,292.3 514.7,284.4 514.8,272.5Z" fill="#f0b554"/>
<path d="M517.2,270.5 613.5,270.5 613.5,373.6 593.5,370.2 580.7,367.7 569.5,365.1 561.5,362.6 553.5,359.4 546.9,355.8 541.3,351.8 538.9,349.9 535.5,346.5 531.5,341.5 529.2,338 527,334 525.2,330 523.7,326.1 521.5,318.6 519.3,308.2 517.6,296.3 517,284.4 517.1,272.5Z" fill="#f0b453"/>
<path d="M519.5,272.5 519.6,270.5 613.5,270.5 613.5,370.7 596.8,367.7 581.5,364.7 571.5,362.3 563.1,359.8 555.5,356.8 549.5,353.6 543.5,349.6 539.5,346.1 537.5,344.1 533.5,339.2 531.4,336 529.2,332 527.3,328 525.8,324.1 523.5,316.2 521.4,306.2 520,296.3 519.4,286.4 519.4,274.5Z" fill="#f0b352"/>
<path d="M522.2,270.5 613.5,270.5 613.5,367.7 592.6,363.8 581.5,361.4 571.5,358.9 563.5,356.4 559.5,354.9 555.5,353.1 549.8,349.9 544.3,345.9 540,341.9 537.5,339.1 535.5,336.5 533.5,333.5 531.5,330 529.7,326.1 528.1,322.1 525.8,314.1 523.7,304.2 522.4,294.3 521.9,284.4 522.1,272.5Z" fill="#f0b150"/>
<path d="M524.9,270.5 613.5,270.5 613.5,364.7 593.5,360.6 580.8,357.8 571.5,355.4 563.5,352.8 557.5,350.2 551.5,346.8 547.5,344 545.5,342.3 541.5,338.5 537.5,333.6 535.5,330.5 533.5,326.8 530.7,320.1 529.3,316.1 528.2,312.2 526.2,302.2 525.1,294.3 524.6,284.4 524.8,272.5Z" fill="#f0b04f"/>
<path d="M527.7,270.5 613.5,270.5 613.5,361.6 583.5,354.9 572.2,351.8 565.5,349.7 559.5,347.1 553.9,343.9 548.5,339.9 544.2,336 540.8,332 539.4,330 537,326.1 535.5,323.1 533.5,318.5 531.4,312.2 529.2,302.2 528.3,296.3 527.8,292.3 527.5,284.4 527.7,272.5Z" fill="#f0ae4e"/>
<path d="M530.6,270.5 613.5,270.5 613.5,358.4 585.5,351.7 572,347.9 565.5,345.7 561.5,343.9 555.5,340.3 549.5,335.7 545.7,332 542.6,328 539.5,322.9 536.3,316.1 534.3,310.2 531.7,298.3 530.9,292.3 530.6,286.4 530.6,272.5Z" fill="#f0ad4d"/>
<path d="M533.7,270.5 613.5,270.5 613.5,355.1 587.5,348.4 567.5,342.3 563.5,340.5 559.5,338 553.5,333.5 549.4,330 547.5,328 544.8,324.1 539.5,314.4 537.9,310.2 534.7,296.3 534.1,292.3 533.8,288.4 533.7,272.5Z" fill="#f0ac4c"/>
<path d="M536.8,270.5 613.5,270.5 613.5,351.7 591.9,345.9 585.5,344 567.5,338 564.1,336 553.5,328 551.5,326.2 549.5,323.5 546.4,318.1 543.5,313.7 542.7,312.2 541.5,309 537.4,292.3 537.1,288.4 536.8,272.5Z" fill="#f0aa4a"/>
<path d="M540.6,270.5 613.5,270.5 613.5,347.1 591.5,340.7 572.8,334 569.5,332.4 565.5,329.7 559.5,325.2 556.1,322.1 553.5,318.8 549,312.2 547,308.2 545.5,303.9 542.7,294.3 541.9,290.3 540.7,272.5Z" fill="#f0a949"/>
<path d="M544.7,270.5 613.5,270.5 613.5,342.3 593.4,336 585.5,333.1 578.2,330 573.5,327.7 569.5,325.2 565.3,322.1 560.9,318.1 557.5,314.1 553.5,308.3 551.5,304.2 549.5,299.2 547.5,292.8 546.6,288.4 544.9,272.5Z" fill="#f0a748"/>
<path d="M548.8,270.5 613.5,270.5 613.5,337.4 595.5,331.3 589.5,329 582.9,326.1 577.5,323.3 573.5,320.8 569.5,317.8 565.4,314.1 561.9,310.2 559,306.2 556.7,302.2 554,296.3 552.6,292.3 551.1,286.4 550.1,280.4 549,272.5Z" fill="#f0a647"/>
<path d="M552.9,270.5 613.5,270.5 613.5,332.3 605.5,329.6 597.5,326.6 591.5,324 585.5,321.2 581.5,319 577.1,316.1 573.5,313.4 569.5,309.8 566.2,306.2 563.5,302.6 560.9,298.3 558.9,294.3 557.3,290.3 555.5,284.4 554.2,278.4 553.2,272.5Z" fill="#f0a446"/>
<path d="M557.2,270.5 613.5,270.5 613.5,327.1 600.4,322.1 595.5,320 589.5,317 585.5,314.7 581.5,312.2 577.5,309.1 573.5,305.5 570.5,302.2 567.5,298.4 565.5,295.3 563.5,291.6 561.5,287 559.9,282.4 558.8,278.4 557.5,272Z" fill="#f0a344"/>
<path d="M561.7,270.5 613.5,270.5 613.5,321.7 601.5,316.7 592.4,312.2 587.5,309.2 583.5,306.4 580.7,304.2 577.5,301.3 574.6,298.3 571.5,294.3 567.8,288.4 565.9,284.4 564.3,280.4 563.1,276.5 562.1,272.5Z" fill="#f0a243"/>
<path d="M566.7,270.5 613.5,270.5 613.5,315.6 603.5,311.1 594.4,306.2 587.5,301.5 581.5,296.4 577.5,292.1 573.3,286.4 571.5,283.3 569.5,279.1 567.2,272.5Z" fill="#f0a042"/>
<path d="M572.7,270.5 613.5,270.5 613.5,308.5 605.5,304.5 599.5,301.1 593.5,297.1 587.5,292.3 583.4,288.4 581.5,286.3 578.5,282.4 575.5,277.5 573.3,272.5Z" fill="#f09f41"/>
<path d="M579.3,270.5 613.5,270.5 613.5,300.8 607.5,297.5 601.5,293.7 596.8,290.3 591.5,286.1 587.5,282.3 584.1,278.4 581.5,274.8 579.5,271Z" fill="#f09d3f"/>
<path d="M588,270.5 613.5,270.5 613.5,292.2 605.5,286.9 599.5,282.4 593.5,277.1 589.4,272.5Z" fill="#f09c3e"/>
<path d="M599.6,270.5 613.5,270.5 613.5,282.2 606.2,276.5 601.5,272.4Z" fill="#f09b3d"/>
<clipPath id="clipd"><rect x="399.5" y="270.5" width="214" height="186.5"/></clipPath>
<path d="M427.9,267C427.9,267.5 427.6,264.5 428.1,270C428.6,275.5 429.4,287.4 430.7,299.9C432.1,312.3 434.1,328.5 436.3,344.7C438.5,360.8 441.3,382 443.8,396.9C446.3,411.8 448.8,424.2 451.3,434.2C453.7,444.2 457.3,452.7 458.7,457C460.1,461.3 459.5,459.4 459.7,459.9M459.4,267C459.4,267.5 459.3,263.3 459.5,270C459.7,276.7 459.8,293.6 460.6,307.3C461.4,321 462.5,337.2 464.3,352.1C466.2,367 468.4,384.5 471.8,396.9C475.2,409.3 480.2,418.7 484.9,426.8C489.5,434.9 495.4,440.4 499.8,445.4C504.1,450.5 508.8,454.7 511,457C513.2,459.3 512.7,458.8 513.1,459.2M478.4,267C478.5,267.5 478.4,263.3 478.5,270C478.6,276.7 478.5,294.9 479.3,307.3C480,319.8 481.1,332.8 483,344.7C484.9,356.5 487.3,368.9 490.4,378.2C493.6,387.6 497,394.4 501.6,400.6C506.3,406.9 511.9,411.5 518.4,415.6C525,419.6 530.9,422.4 540.8,424.9C550.8,427.4 566,428.9 578.2,430.5C590.4,432.1 607.5,433.6 614,434.2C620.5,434.9 616.5,434.5 617,434.5M497.8,267C497.8,267.5 497.7,264.5 497.9,270C498.1,275.5 498.1,289.3 499,299.9C500,310.4 501.5,324.1 503.5,333.5C505.5,342.8 507.9,349.3 511,355.8C514.1,362.4 517.2,367.7 522.2,372.6C527.2,377.6 533.4,382.3 540.8,385.7C548.3,389.1 554.8,390.8 567,393.2C579.2,395.5 605.7,398.7 614,399.9C622.3,401.1 616.5,400.2 617,400.3M537,267C537,267.5 537,265.8 537.1,270C537.2,274.2 536.9,285.6 537.9,292.4C538.8,299.2 540.3,305.5 542.7,311.1C545.1,316.7 548,321.6 552,326C556.1,330.3 560.7,334.1 567,337.2C573.2,340.3 581.5,342.3 589.4,344.7C597.2,347 609.4,350.1 614,351.4C618.6,352.6 616.4,352 616.9,352.2" fill="none" stroke="#2a2a2a" stroke-opacity="0.55" stroke-width="0.35" clip-path="url(#clipd)"/></g>
<rect x="399.5" y="270.5" width="214" height="186.5" fill="none" stroke="#444" stroke-width="1"/>
<path d="M44.5,205.5v3M151.5,205.5v3M258.5,205.5v3M98,205.5v1.5M205,205.5v1.5" stroke="#444" stroke-width="1" fill="none"/><text x="44.5" y="220" text-anchor="middle" class="t">0</text><text x="151.5" y="220" text-anchor="middle" class="t">5</text><text x="258.5" y="220" text-anchor="middle" class="t">10</text>
<path d="M44.5,49h-3M44.5,93.5h-3M44.5,138h-3M44.5,182.5h-3M44.5,26.7h-1.5M44.5,71.2h-1.5M44.5,115.7h-1.5M44.5,160.2h-1.5M44.5,204.7h-1.5" stroke="#444" stroke-width="1" fill="none"/><text x="39.5" y="53" text-anchor="end" class="t">30</text><text x="39.5" y="97.5" text-anchor="end" class="t">20</text><text x="39.5" y="142" text-anchor="end" class="t">10</text><text x="39.5" y="186.5" text-anchor="end" class="t">0</text>
<text x="156.8" y="232" text-anchor="middle" class="l">Isoprene (ppbv)</text>
<text x="149.5" y="247" text-anchor="middle" class="l">(a)</text>
<text transform="translate(19,115) rotate(-90)" text-anchor="middle" class="l">T (°C)</text>
<path d="M431,206.5v3M488.6,206.5v3M546.4,206.5v3M604.3,206.5v3M401.5,206.5v1.5M459.8,206.5v1.5M517.5,206.5v1.5M575.4,206.5v1.5" stroke="#444" stroke-width="1" fill="none"/><text x="431" y="220.5" text-anchor="middle" class="t">0</text><text x="488.6" y="220.5" text-anchor="middle" class="t">10</text><text x="546.4" y="220.5" text-anchor="middle" class="t">20</text><text x="604.3" y="220.5" text-anchor="middle" class="t">30</text>
<path d="M401.5,44.8h-3M401.5,131.9h-3M401.5,88.3h-1.5M401.5,175.5h-1.5" stroke="#444" stroke-width="1" fill="none"/><text x="396.8" y="48.8" text-anchor="end" class="t">60</text><text x="396.8" y="135.9" text-anchor="end" class="t">30</text>
<text x="515" y="233" text-anchor="middle" class="l">T (°C)</text>
<text x="510.6" y="247.3" text-anchor="middle" class="l">(b)</text>
<text transform="translate(370.8,105) rotate(-90)" text-anchor="middle" class="l">NOx (ppbv)</text>
<path d="M44.5,456.5v3M151.5,456.5v3M258.5,456.5v3M98,456.5v1.5M205,456.5v1.5" stroke="#444" stroke-width="1" fill="none"/><text x="44.5" y="471" text-anchor="middle" class="t">0</text><text x="151.5" y="471" text-anchor="middle" class="t">5</text><text x="258.5" y="471" text-anchor="middle" class="t">10</text>
<path d="M44.5,269h-3M44.5,369.4h-3M44.5,319.1h-1.5M44.5,419.7h-1.5" stroke="#444" stroke-width="1" fill="none"/><text x="39" y="273" text-anchor="end" class="t">100</text><text x="39" y="373.4" text-anchor="end" class="t">50</text>
<text x="157.8" y="483" text-anchor="middle" class="l">Isoprene (ppbv)</text>
<text x="152.8" y="494.7" text-anchor="middle" class="l">(c)</text>
<text transform="translate(11.1,359.5) rotate(-90)" text-anchor="middle" class="l">NOx (ppbv)</text>
<path d="M399.5,457v3M506.5,457v3M613.5,457v3M452.9,457v1.5M559.9,457v1.5" stroke="#444" stroke-width="1" fill="none"/><text x="399.5" y="472" text-anchor="middle" class="t">0</text><text x="506.5" y="472" text-anchor="middle" class="t">5</text><text x="613.5" y="472" text-anchor="middle" class="t">10</text>
<path d="M399.5,340.5h-3M399.5,457h-3M399.5,282h-1.5M399.5,399h-1.5" stroke="#444" stroke-width="1" fill="none"/><text x="394" y="344.5" text-anchor="end" class="t">5</text><text x="394" y="461" text-anchor="end" class="t">0</text>
<text x="511" y="483.3" text-anchor="middle" class="l">Isoprene (ppbv)</text>
<text x="504.8" y="497" text-anchor="middle" class="l">(d)</text>
<text transform="translate(373.7,358.8) rotate(-90)" text-anchor="middle" class="l">SOC <tspan font-size="12">(</tspan>μg/m<tspan dy="-5" font-size="9">3</tspan><tspan dy="5" font-size="12">)</tspan></text>
<linearGradient id="ga" x1="0" y1="1" x2="0" y2="0"><stop offset="0%" stop-color="#9dced7"/><stop offset="12.5%" stop-color="#b3ccb8"/><stop offset="25%" stop-color="#cacb99"/><stop offset="37.5%" stop-color="#e0c97a"/><stop offset="50%" stop-color="#f0c360"/><stop offset="62.5%" stop-color="#f0b352"/><stop offset="75%" stop-color="#f0a344"/><stop offset="87.5%" stop-color="#f09236"/><stop offset="100%" stop-color="#f08228"/></linearGradient><rect x="292.5" y="17.6" width="15.6" height="187.7" fill="url(#ga)" stroke="#666" stroke-width="0.8"/><path d="M308.1,203.3h2.5M308.1,181.5h2.5M308.1,159.7h2.5M308.1,137.9h2.5M308.1,116.1h2.5M308.1,94.2h2.5M308.1,72.4h2.5M308.1,50.6h2.5M308.1,28.8h2.5" stroke="#777" stroke-width="0.8" fill="none"/><text x="315.2" y="207.3" class="t">22</text><text x="315.2" y="185.5" class="t">26</text><text x="315.2" y="163.7" class="t">30</text><text x="315.2" y="141.9" class="t">34</text><text x="315.2" y="120.1" class="t">38</text><text x="315.2" y="98.2" class="t">42</text><text x="315.2" y="76.4" class="t">46</text><text x="315.2" y="54.6" class="t">50</text><text x="315.2" y="32.8" class="t">54</text><text x="283.7" y="9.3" class="t">O<tspan dy="2.5" font-size="8">3</tspan><tspan dy="-2.5">(ppbv)</tspan></text>
<linearGradient id="gb" x1="0" y1="1" x2="0" y2="0"><stop offset="0%" stop-color="#80d0ff"/><stop offset="12.5%" stop-color="#90cfe9"/><stop offset="25%" stop-color="#a2ced0"/><stop offset="37.5%" stop-color="#b4ccb8"/><stop offset="50%" stop-color="#c6cb9f"/><stop offset="62.5%" stop-color="#d8ca86"/><stop offset="75%" stop-color="#eac86d"/><stop offset="87.5%" stop-color="#f0b252"/><stop offset="100%" stop-color="#f09135"/></linearGradient><rect x="650.2" y="18.4" width="14.6" height="188" fill="url(#gb)" stroke="#666" stroke-width="0.8"/><path d="M664.8,206.4h2.5M664.8,183.4h2.5M664.8,160.4h2.5M664.8,137.4h2.5M664.8,114.4h2.5M664.8,91.3h2.5M664.8,68.3h2.5M664.8,45.3h2.5M664.8,22.3h2.5" stroke="#777" stroke-width="0.8" fill="none"/><text x="672.3" y="210.4" class="t">13</text><text x="672.3" y="187.4" class="t">17</text><text x="672.3" y="164.4" class="t">21</text><text x="672.3" y="141.4" class="t">25</text><text x="672.3" y="118.4" class="t">29</text><text x="672.3" y="95.3" class="t">33</text><text x="672.3" y="72.3" class="t">37</text><text x="672.3" y="49.3" class="t">41</text><text x="672.3" y="26.3" class="t">45</text><text x="637.4" y="9.6" class="t">O<tspan dy="2.5" font-size="8">3</tspan><tspan dy="-2.5">(ppbv)</tspan></text>
<linearGradient id="gc" x1="0" y1="1" x2="0" y2="0"><stop offset="0%" stop-color="#80d0ff"/><stop offset="12.5%" stop-color="#90cfe9"/><stop offset="25%" stop-color="#a2ced0"/><stop offset="37.5%" stop-color="#b4ccb8"/><stop offset="50%" stop-color="#c6cb9f"/><stop offset="62.5%" stop-color="#d8ca86"/><stop offset="75%" stop-color="#eac86d"/><stop offset="87.5%" stop-color="#f0b252"/><stop offset="100%" stop-color="#f09135"/></linearGradient><rect x="293.3" y="268.8" width="14.8" height="187.4" fill="url(#gc)" stroke="#666" stroke-width="0.8"/><path d="M308.1,456.2h2.5M308.1,433.3h2.5M308.1,410.3h2.5M308.1,387.4h2.5M308.1,364.4h2.5M308.1,341.5h2.5M308.1,318.6h2.5M308.1,295.6h2.5M308.1,272.7h2.5" stroke="#777" stroke-width="0.8" fill="none"/><text x="316.5" y="460.2" class="t">13</text><text x="316.5" y="437.3" class="t">17</text><text x="316.5" y="414.3" class="t">21</text><text x="316.5" y="391.4" class="t">25</text><text x="316.5" y="368.4" class="t">29</text><text x="316.5" y="345.5" class="t">33</text><text x="316.5" y="322.6" class="t">37</text><text x="316.5" y="299.6" class="t">41</text><text x="316.5" y="276.7" class="t">45</text><text x="281.3" y="253.8" class="t">O<tspan dy="2.5" font-size="8">3</tspan><tspan dy="-2.5">(ppbv)</tspan></text>
<linearGradient id="gd" x1="0" y1="1" x2="0" y2="0"><stop offset="0%" stop-color="#a3cdce"/><stop offset="12.5%" stop-color="#b0cdbc"/><stop offset="25%" stop-color="#bdccaa"/><stop offset="37.5%" stop-color="#cbcb98"/><stop offset="50%" stop-color="#d8ca85"/><stop offset="62.5%" stop-color="#e5c973"/><stop offset="75%" stop-color="#f0c460"/><stop offset="87.5%" stop-color="#f0ab4b"/><stop offset="100%" stop-color="#f09236"/></linearGradient><rect x="648.1" y="270.1" width="14.8" height="187.6" fill="url(#gd)" stroke="#666" stroke-width="0.8"/><path d="M662.9,454h2.5M662.9,422.6h2.5M662.9,391.2h2.5M662.9,359.9h2.5M662.9,328.5h2.5M662.9,297.1h2.5" stroke="#777" stroke-width="0.8" fill="none"/><text x="670" y="458" class="t">22</text><text x="670" y="426.6" class="t">26</text><text x="670" y="395.2" class="t">30</text><text x="670" y="363.9" class="t">34</text><text x="670" y="332.5" class="t">38</text><text x="670" y="301.1" class="t">42</text><text x="631.2" y="255.8" class="t">O<tspan dy="2.5" font-size="8">3</tspan><tspan dy="-2.5">(ppbv)</tspan></text>
</svg>
</body></html>
